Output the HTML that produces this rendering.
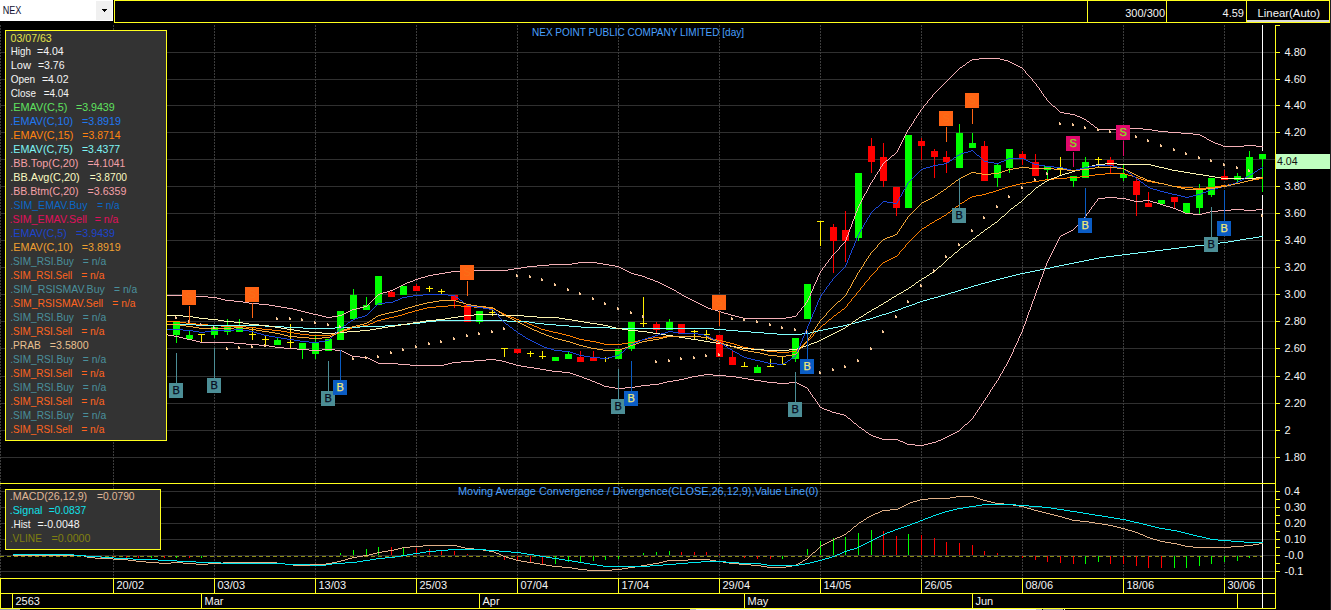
<!DOCTYPE html>
<html><head><meta charset="utf-8"><title>NEX chart</title>
<style>html,body{margin:0;padding:0;background:#000;overflow:hidden}svg{display:block}text{font-family:"Liberation Sans", sans-serif;}</style></head><body>
<svg width="1331" height="610" viewBox="0 0 1331 610" shape-rendering="crispEdges"><defs><clipPath id="mainclip"><rect x="0" y="24" width="1263" height="459"/></clipPath></defs>
<rect x="0" y="0" width="1331" height="610" fill="#000000"/>
<rect x="0" y="52" width="1275" height="1" fill="#303030"/>
<rect x="0" y="79" width="1275" height="1" fill="#303030"/>
<rect x="0" y="105" width="1275" height="1" fill="#303030"/>
<rect x="0" y="132" width="1275" height="1" fill="#303030"/>
<rect x="0" y="159" width="1275" height="1" fill="#303030"/>
<rect x="0" y="186" width="1275" height="1" fill="#303030"/>
<rect x="0" y="213" width="1275" height="1" fill="#303030"/>
<rect x="0" y="240" width="1275" height="1" fill="#303030"/>
<rect x="0" y="267" width="1275" height="1" fill="#303030"/>
<rect x="0" y="294" width="1275" height="1" fill="#303030"/>
<rect x="0" y="321" width="1275" height="1" fill="#303030"/>
<rect x="0" y="348" width="1275" height="1" fill="#303030"/>
<rect x="0" y="376" width="1275" height="1" fill="#303030"/>
<rect x="0" y="403" width="1275" height="1" fill="#303030"/>
<rect x="0" y="430" width="1275" height="1" fill="#303030"/>
<rect x="0" y="457" width="1275" height="1" fill="#303030"/>
<rect x="0" y="491" width="1275" height="1" fill="#303030"/>
<rect x="0" y="507" width="1275" height="1" fill="#303030"/>
<rect x="0" y="523" width="1275" height="1" fill="#303030"/>
<rect x="0" y="539" width="1275" height="1" fill="#303030"/>
<rect x="0" y="555" width="1275" height="1" fill="#303030"/>
<rect x="0" y="571" width="1275" height="1" fill="#303030"/>
<line x1="0.5" y1="25" x2="0.5" y2="578" stroke="#3c3c3c" stroke-width="1" stroke-dasharray="2 1"/>
<line x1="113.5" y1="25" x2="113.5" y2="578" stroke="#3c3c3c" stroke-width="1" stroke-dasharray="2 1"/>
<line x1="214.5" y1="25" x2="214.5" y2="578" stroke="#3c3c3c" stroke-width="1" stroke-dasharray="2 1"/>
<line x1="315.5" y1="25" x2="315.5" y2="578" stroke="#3c3c3c" stroke-width="1" stroke-dasharray="2 1"/>
<line x1="416.5" y1="25" x2="416.5" y2="578" stroke="#3c3c3c" stroke-width="1" stroke-dasharray="2 1"/>
<line x1="517.5" y1="25" x2="517.5" y2="578" stroke="#3c3c3c" stroke-width="1" stroke-dasharray="2 1"/>
<line x1="618.5" y1="25" x2="618.5" y2="578" stroke="#3c3c3c" stroke-width="1" stroke-dasharray="2 1"/>
<line x1="719.5" y1="25" x2="719.5" y2="578" stroke="#3c3c3c" stroke-width="1" stroke-dasharray="2 1"/>
<line x1="820.5" y1="25" x2="820.5" y2="578" stroke="#3c3c3c" stroke-width="1" stroke-dasharray="2 1"/>
<line x1="921.5" y1="25" x2="921.5" y2="578" stroke="#3c3c3c" stroke-width="1" stroke-dasharray="2 1"/>
<line x1="1022.5" y1="25" x2="1022.5" y2="578" stroke="#3c3c3c" stroke-width="1" stroke-dasharray="2 1"/>
<line x1="1123.5" y1="25" x2="1123.5" y2="578" stroke="#3c3c3c" stroke-width="1" stroke-dasharray="2 1"/>
<line x1="1224.5" y1="25" x2="1224.5" y2="578" stroke="#3c3c3c" stroke-width="1" stroke-dasharray="2 1"/>
<rect x="1262" y="25" width="1" height="126" fill="#ffffff"/>
<rect x="1262" y="195" width="1" height="413" fill="#ffffff"/>
<rect x="176" y="334" width="1" height="9" fill="#00ff00"/>
<rect x="173" y="322" width="7" height="13" fill="#00ff00"/>
<rect x="189" y="331" width="1" height="5" fill="#00ff00"/>
<rect x="186" y="335" width="7" height="4" fill="#00ff00"/>
<rect x="201" y="334" width="1" height="8" fill="#ffee00"/>
<rect x="198" y="334" width="7" height="1" fill="#ffee00"/>
<rect x="214" y="334" width="1" height="4" fill="#00ff00"/>
<rect x="211" y="327" width="7" height="8" fill="#00ff00"/>
<rect x="227" y="319" width="1" height="9" fill="#00ff00"/>
<rect x="227" y="331" width="1" height="4" fill="#00ff00"/>
<rect x="224" y="327" width="7" height="5" fill="#00ff00"/>
<rect x="239" y="319" width="1" height="9" fill="#00ff00"/>
<rect x="236" y="327" width="7" height="5" fill="#00ff00"/>
<rect x="252" y="328" width="1" height="12" fill="#ffee00"/>
<rect x="249" y="334" width="7" height="1" fill="#ffee00"/>
<rect x="265" y="336" width="1" height="10" fill="#ffee00"/>
<rect x="262" y="339" width="7" height="1" fill="#ffee00"/>
<rect x="277" y="338" width="1" height="3" fill="#00ff00"/>
<rect x="274" y="340" width="7" height="5" fill="#00ff00"/>
<rect x="290" y="324" width="1" height="24" fill="#ffee00"/>
<rect x="287" y="342" width="7" height="1" fill="#ffee00"/>
<rect x="302" y="348" width="1" height="11" fill="#00ff00"/>
<rect x="299" y="343" width="7" height="6" fill="#00ff00"/>
<rect x="315" y="336" width="1" height="8" fill="#00ff00"/>
<rect x="315" y="353" width="1" height="6" fill="#00ff00"/>
<rect x="312" y="343" width="7" height="11" fill="#00ff00"/>
<rect x="325" y="339" width="7" height="12" fill="#00ff00"/>
<rect x="337" y="311" width="7" height="29" fill="#00ff00"/>
<rect x="353" y="289" width="1" height="7" fill="#00ff00"/>
<rect x="350" y="295" width="7" height="24" fill="#00ff00"/>
<rect x="366" y="297" width="1" height="9" fill="#00ff00"/>
<rect x="363" y="305" width="7" height="5" fill="#00ff00"/>
<rect x="375" y="276" width="7" height="29" fill="#00ff00"/>
<rect x="391" y="290" width="1" height="3" fill="#ff0000"/>
<rect x="388" y="292" width="7" height="5" fill="#ff0000"/>
<rect x="400" y="286" width="7" height="9" fill="#00ff00"/>
<rect x="416" y="284" width="1" height="3" fill="#ff0000"/>
<rect x="413" y="286" width="7" height="5" fill="#ff0000"/>
<rect x="429" y="286" width="1" height="6" fill="#ffee00"/>
<rect x="426" y="288" width="7" height="1" fill="#ffee00"/>
<rect x="441" y="289" width="1" height="6" fill="#ffee00"/>
<rect x="438" y="291" width="7" height="1" fill="#ffee00"/>
<rect x="454" y="299" width="1" height="9" fill="#ff0000"/>
<rect x="451" y="295" width="7" height="5" fill="#ff0000"/>
<rect x="464" y="305" width="7" height="17" fill="#ff0000"/>
<rect x="479" y="321" width="1" height="3" fill="#00ff00"/>
<rect x="476" y="311" width="7" height="11" fill="#00ff00"/>
<rect x="492" y="310" width="1" height="6" fill="#ffee00"/>
<rect x="489" y="312" width="7" height="1" fill="#ffee00"/>
<rect x="504" y="348" width="1" height="9" fill="#ffee00"/>
<rect x="501" y="348" width="7" height="1" fill="#ffee00"/>
<rect x="517" y="352" width="1" height="2" fill="#ff0000"/>
<rect x="514" y="349" width="7" height="4" fill="#ff0000"/>
<rect x="530" y="351" width="1" height="6" fill="#ffee00"/>
<rect x="527" y="353" width="7" height="1" fill="#ffee00"/>
<rect x="542" y="351" width="1" height="8" fill="#ffee00"/>
<rect x="539" y="356" width="7" height="1" fill="#ffee00"/>
<rect x="552" y="357" width="7" height="4" fill="#00ff00"/>
<rect x="568" y="352" width="1" height="3" fill="#00ff00"/>
<rect x="565" y="354" width="7" height="5" fill="#00ff00"/>
<rect x="580" y="351" width="1" height="7" fill="#ff0000"/>
<rect x="577" y="357" width="7" height="5" fill="#ff0000"/>
<rect x="593" y="351" width="1" height="8" fill="#ff0000"/>
<rect x="590" y="358" width="7" height="3" fill="#ff0000"/>
<rect x="605" y="357" width="1" height="5" fill="#ffee00"/>
<rect x="602" y="358" width="7" height="1" fill="#ffee00"/>
<rect x="615" y="349" width="7" height="10" fill="#00ff00"/>
<rect x="631" y="348" width="1" height="3" fill="#00ff00"/>
<rect x="628" y="322" width="7" height="27" fill="#00ff00"/>
<rect x="643" y="297" width="1" height="30" fill="#ffee00"/>
<rect x="640" y="323" width="7" height="1" fill="#ffee00"/>
<rect x="656" y="322" width="1" height="3" fill="#ff0000"/>
<rect x="656" y="329" width="1" height="5" fill="#ff0000"/>
<rect x="653" y="324" width="7" height="6" fill="#ff0000"/>
<rect x="669" y="319" width="1" height="4" fill="#00ff00"/>
<rect x="666" y="322" width="7" height="8" fill="#00ff00"/>
<rect x="678" y="324" width="7" height="10" fill="#ff0000"/>
<rect x="694" y="330" width="1" height="9" fill="#ffee00"/>
<rect x="691" y="331" width="7" height="1" fill="#ffee00"/>
<rect x="706" y="330" width="1" height="10" fill="#ffee00"/>
<rect x="703" y="334" width="7" height="1" fill="#ffee00"/>
<rect x="716" y="335" width="7" height="22" fill="#ff0000"/>
<rect x="732" y="351" width="1" height="7" fill="#ff0000"/>
<rect x="729" y="357" width="7" height="8" fill="#ff0000"/>
<rect x="744" y="362" width="1" height="4" fill="#ffee00"/>
<rect x="741" y="366" width="7" height="1" fill="#ffee00"/>
<rect x="757" y="365" width="1" height="3" fill="#00ff00"/>
<rect x="754" y="367" width="7" height="6" fill="#00ff00"/>
<rect x="770" y="359" width="1" height="7" fill="#ffee00"/>
<rect x="767" y="366" width="7" height="1" fill="#ffee00"/>
<rect x="782" y="357" width="1" height="8" fill="#ffee00"/>
<rect x="779" y="364" width="7" height="1" fill="#ffee00"/>
<rect x="795" y="358" width="1" height="4" fill="#00ff00"/>
<rect x="792" y="338" width="7" height="21" fill="#00ff00"/>
<rect x="804" y="284" width="7" height="35" fill="#00ff00"/>
<rect x="820" y="221" width="1" height="25" fill="#ffee00"/>
<rect x="817" y="221" width="7" height="1" fill="#ffee00"/>
<rect x="833" y="224" width="1" height="4" fill="#ff0000"/>
<rect x="833" y="240" width="1" height="33" fill="#ff0000"/>
<rect x="830" y="227" width="7" height="14" fill="#ff0000"/>
<rect x="845" y="211" width="1" height="20" fill="#ff0000"/>
<rect x="845" y="240" width="1" height="22" fill="#ff0000"/>
<rect x="842" y="230" width="7" height="11" fill="#ff0000"/>
<rect x="858" y="237" width="1" height="4" fill="#00ff00"/>
<rect x="855" y="173" width="7" height="65" fill="#00ff00"/>
<rect x="871" y="138" width="1" height="9" fill="#ff0000"/>
<rect x="871" y="161" width="1" height="12" fill="#ff0000"/>
<rect x="868" y="146" width="7" height="16" fill="#ff0000"/>
<rect x="883" y="143" width="1" height="15" fill="#ff0000"/>
<rect x="883" y="180" width="1" height="7" fill="#ff0000"/>
<rect x="880" y="157" width="7" height="24" fill="#ff0000"/>
<rect x="896" y="207" width="1" height="9" fill="#ff0000"/>
<rect x="893" y="187" width="7" height="21" fill="#ff0000"/>
<rect x="905" y="135" width="7" height="73" fill="#00ff00"/>
<rect x="921" y="138" width="1" height="4" fill="#ff0000"/>
<rect x="921" y="145" width="1" height="15" fill="#ff0000"/>
<rect x="918" y="141" width="7" height="5" fill="#ff0000"/>
<rect x="934" y="149" width="1" height="3" fill="#ff0000"/>
<rect x="934" y="156" width="1" height="22" fill="#ff0000"/>
<rect x="931" y="151" width="7" height="6" fill="#ff0000"/>
<rect x="946" y="151" width="1" height="7" fill="#ff0000"/>
<rect x="946" y="161" width="1" height="12" fill="#ff0000"/>
<rect x="943" y="157" width="7" height="5" fill="#ff0000"/>
<rect x="959" y="124" width="1" height="10" fill="#00ff00"/>
<rect x="956" y="133" width="7" height="35" fill="#00ff00"/>
<rect x="972" y="133" width="1" height="11" fill="#00ff00"/>
<rect x="969" y="143" width="7" height="5" fill="#00ff00"/>
<rect x="984" y="141" width="1" height="6" fill="#ff0000"/>
<rect x="981" y="146" width="7" height="35" fill="#ff0000"/>
<rect x="997" y="163" width="1" height="3" fill="#00ff00"/>
<rect x="997" y="177" width="1" height="10" fill="#00ff00"/>
<rect x="994" y="165" width="7" height="13" fill="#00ff00"/>
<rect x="1009" y="167" width="1" height="6" fill="#00ff00"/>
<rect x="1006" y="149" width="7" height="19" fill="#00ff00"/>
<rect x="1022" y="151" width="1" height="4" fill="#ff0000"/>
<rect x="1022" y="158" width="1" height="7" fill="#ff0000"/>
<rect x="1019" y="154" width="7" height="5" fill="#ff0000"/>
<rect x="1035" y="154" width="1" height="9" fill="#ff0000"/>
<rect x="1032" y="162" width="7" height="14" fill="#ff0000"/>
<rect x="1047" y="169" width="1" height="10" fill="#00ff00"/>
<rect x="1044" y="166" width="7" height="4" fill="#00ff00"/>
<rect x="1060" y="157" width="1" height="19" fill="#ffee00"/>
<rect x="1057" y="168" width="7" height="1" fill="#ffee00"/>
<rect x="1073" y="180" width="1" height="7" fill="#00ff00"/>
<rect x="1070" y="176" width="7" height="5" fill="#00ff00"/>
<rect x="1085" y="157" width="1" height="6" fill="#00ff00"/>
<rect x="1082" y="162" width="7" height="16" fill="#00ff00"/>
<rect x="1098" y="157" width="1" height="10" fill="#ffee00"/>
<rect x="1095" y="159" width="7" height="1" fill="#ffee00"/>
<rect x="1110" y="157" width="1" height="4" fill="#ff0000"/>
<rect x="1110" y="165" width="1" height="8" fill="#ff0000"/>
<rect x="1107" y="160" width="7" height="6" fill="#ff0000"/>
<rect x="1123" y="165" width="1" height="10" fill="#00ff00"/>
<rect x="1123" y="177" width="1" height="4" fill="#00ff00"/>
<rect x="1120" y="174" width="7" height="4" fill="#00ff00"/>
<rect x="1136" y="178" width="1" height="4" fill="#ff0000"/>
<rect x="1136" y="194" width="1" height="22" fill="#ff0000"/>
<rect x="1133" y="181" width="7" height="14" fill="#ff0000"/>
<rect x="1148" y="192" width="1" height="12" fill="#ff0000"/>
<rect x="1145" y="203" width="7" height="4" fill="#ff0000"/>
<rect x="1158" y="200" width="7" height="4" fill="#00ff00"/>
<rect x="1174" y="201" width="1" height="7" fill="#ff0000"/>
<rect x="1171" y="197" width="7" height="5" fill="#ff0000"/>
<rect x="1183" y="203" width="7" height="10" fill="#00ff00"/>
<rect x="1199" y="184" width="1" height="5" fill="#00ff00"/>
<rect x="1199" y="207" width="1" height="7" fill="#00ff00"/>
<rect x="1196" y="188" width="7" height="20" fill="#00ff00"/>
<rect x="1211" y="194" width="1" height="3" fill="#00ff00"/>
<rect x="1208" y="178" width="7" height="17" fill="#00ff00"/>
<rect x="1224" y="170" width="1" height="7" fill="#ff0000"/>
<rect x="1221" y="176" width="7" height="4" fill="#ff0000"/>
<rect x="1237" y="173" width="1" height="4" fill="#00ff00"/>
<rect x="1237" y="179" width="1" height="4" fill="#00ff00"/>
<rect x="1234" y="176" width="7" height="4" fill="#00ff00"/>
<rect x="1249" y="151" width="1" height="7" fill="#00ff00"/>
<rect x="1246" y="157" width="7" height="21" fill="#00ff00"/>
<rect x="1262" y="158" width="1" height="34" fill="#00ff00"/>
<rect x="1259" y="154" width="7" height="5" fill="#00ff00"/>
<path fill="#ff8000" d="M1105 173h20v1h-20zM1095 174h10v1h-10zM1125 174h3v1h-3zM1089 175h6v1h-6zM1128 175h4v1h-4zM1080 176h9v1h-9zM1132 176h3v1h-3zM1067 177h13v1h-13zM1135 177h3v1h-3zM1054 178h13v1h-13zM1138 178h3v1h-3zM1259 178h4v1h-4zM1045 179h9v1h-9zM1141 179h3v1h-3zM1253 179h6v1h-6zM1039 180h6v1h-6zM1144 180h3v1h-3zM1248 180h5v1h-5zM1032 181h7v1h-7zM1147 181h5v1h-5zM1244 181h4v1h-4zM1026 182h6v1h-6zM1152 182h6v1h-6zM1240 182h4v1h-4zM1020 183h6v1h-6zM1158 183h6v1h-6zM1234 183h6v1h-6zM1016 184h4v1h-4zM1164 184h4v1h-4zM1228 184h6v1h-6zM1012 185h4v1h-4zM1168 185h4v1h-4zM1221 185h7v1h-7zM1008 186h4v1h-4zM1172 186h9v1h-9zM1215 186h6v1h-6zM1005 187h3v1h-3zM1181 187h12v1h-12zM1206 187h9v1h-9zM1002 188h3v1h-3zM1193 188h13v1h-13zM999 189h3v1h-3zM996 190h3v1h-3zM993 191h3v1h-3zM989 192h4v1h-4zM986 193h3v1h-3zM982 194h4v1h-4zM976 195h6v1h-6zM972 196h4v1h-4zM970 197h2v1h-2zM968 198h2v1h-2zM967 199h1v1h-1zM965 200h2v1h-2zM964 201h1v1h-1zM962 202h2v1h-2zM960 203h2v1h-2zM959 204h1v1h-1zM958 205h1v1h-1zM956 206h2v1h-2zM955 207h1v1h-1zM954 208h1v1h-1zM952 209h2v1h-2zM951 210h1v1h-1zM950 211h1v1h-1zM948 212h2v1h-2zM947 213h1v1h-1zM946 214h1v1h-1zM944 215h2v1h-2zM942 216h2v1h-2zM941 217h1v1h-1zM939 218h2v1h-2zM937 219h2v1h-2zM935 220h2v1h-2zM934 221h1v1h-1zM932 222h2v1h-2zM930 223h2v1h-2zM929 224h1v1h-1zM927 225h2v1h-2zM926 226h1v1h-1zM924 227h2v1h-2zM922 228h2v1h-2zM921 229h1v1h-1zM920 230h1v1h-1zM919 231h1v1h-1zM918 232h1v1h-1zM917 233h1v1h-1zM916 234h1v1h-1zM915 235h1v1h-1zM914 236h1v1h-1zM913 237h1v1h-1zM912 238h1v1h-1zM911 239h1v1h-1zM910 240h1v1h-1zM909 241h1v1h-1zM908 242h1v1h-1zM907 243h1v1h-1zM906 244h1v1h-1zM905 245h1v2h-1zM904 247h1v1h-1zM903 248h1v1h-1zM902 249h1v1h-1zM901 250h1v1h-1zM900 251h1v1h-1zM899 252h1v2h-1zM898 254h1v1h-1zM897 255h1v1h-1zM895 256h2v1h-2zM893 257h2v1h-2zM891 258h2v1h-2zM889 259h2v1h-2zM887 260h2v1h-2zM885 261h2v1h-2zM883 262h2v1h-2zM882 263h1v1h-1zM881 264h1v1h-1zM880 265h1v1h-1zM879 266h1v1h-1zM878 267h1v1h-1zM877 268h1v2h-1zM876 270h1v1h-1zM875 271h1v1h-1zM874 272h1v1h-1zM873 273h1v1h-1zM872 274h1v1h-1zM871 275h1v1h-1zM870 276h1v1h-1zM869 277h1v2h-1zM868 279h1v1h-1zM867 280h1v1h-1zM866 281h1v1h-1zM865 282h1v1h-1zM864 283h1v2h-1zM863 285h1v1h-1zM862 286h1v1h-1zM861 287h1v1h-1zM860 288h1v2h-1zM859 290h1v1h-1zM858 291h1v1h-1zM857 292h1v1h-1zM856 293h1v2h-1zM855 295h1v1h-1zM854 296h1v1h-1zM853 297h1v1h-1zM852 298h1v1h-1zM851 299h1v2h-1zM850 301h1v1h-1zM849 302h1v1h-1zM848 303h1v1h-1zM847 304h1v2h-1zM448 305h13v1h-13zM436 306h12v1h-12zM461 306h13v1h-13zM846 306h1v1h-1zM427 307h9v1h-9zM474 307h12v1h-12zM845 307h1v1h-1zM423 308h4v1h-4zM486 308h8v1h-8zM844 308h1v1h-1zM419 309h4v1h-4zM494 309h2v1h-2zM842 309h2v1h-2zM415 310h4v1h-4zM496 310h2v1h-2zM841 310h1v1h-1zM412 311h3v1h-3zM498 311h2v1h-2zM840 311h1v1h-1zM408 312h4v1h-4zM500 312h2v1h-2zM838 312h2v1h-2zM405 313h3v1h-3zM502 313h2v1h-2zM837 313h1v1h-1zM402 314h3v1h-3zM504 314h2v1h-2zM836 314h1v1h-1zM398 315h4v1h-4zM506 315h2v1h-2zM834 315h2v1h-2zM394 316h4v1h-4zM508 316h3v1h-3zM833 316h1v1h-1zM389 317h5v1h-5zM511 317h3v1h-3zM832 317h1v1h-1zM385 318h4v1h-4zM514 318h2v1h-2zM831 318h1v1h-1zM381 319h4v1h-4zM516 319h3v1h-3zM829 319h2v1h-2zM377 320h4v1h-4zM519 320h2v1h-2zM828 320h1v1h-1zM164 321h16v1h-16zM375 321h2v1h-2zM521 321h3v1h-3zM827 321h1v1h-1zM180 322h6v1h-6zM373 322h2v1h-2zM524 322h3v1h-3zM826 322h1v1h-1zM186 323h10v1h-10zM370 323h3v1h-3zM527 323h2v1h-2zM825 323h1v1h-1zM196 324h12v1h-12zM368 324h2v1h-2zM529 324h3v1h-3zM823 324h2v1h-2zM208 325h13v1h-13zM363 325h5v1h-5zM532 325h2v1h-2zM822 325h1v1h-1zM221 326h25v1h-25zM357 326h6v1h-6zM534 326h3v1h-3zM821 326h1v1h-1zM246 327h10v1h-10zM352 327h5v1h-5zM537 327h2v1h-2zM820 327h1v1h-1zM256 328h6v1h-6zM350 328h2v1h-2zM539 328h2v1h-2zM819 328h1v1h-1zM262 329h10v1h-10zM347 329h3v1h-3zM541 329h4v1h-4zM818 329h1v1h-1zM272 330h9v1h-9zM344 330h3v1h-3zM545 330h4v1h-4zM817 330h1v1h-1zM281 331h6v1h-6zM342 331h2v1h-2zM549 331h4v1h-4zM816 331h1v1h-1zM287 332h7v1h-7zM339 332h3v1h-3zM553 332h5v1h-5zM815 332h1v1h-1zM294 333h6v1h-6zM335 333h4v1h-4zM558 333h4v1h-4zM814 333h1v1h-1zM300 334h9v1h-9zM331 334h4v1h-4zM562 334h4v1h-4zM813 334h1v2h-1zM309 335h22v1h-22zM566 335h4v1h-4zM570 336h3v1h-3zM663 336h38v1h-38zM812 336h1v1h-1zM573 337h3v1h-3zM653 337h10v1h-10zM701 337h8v1h-8zM811 337h1v1h-1zM576 338h3v1h-3zM647 338h6v1h-6zM709 338h4v1h-4zM810 338h1v1h-1zM579 339h5v1h-5zM642 339h5v1h-5zM713 339h4v1h-4zM809 339h1v1h-1zM584 340h6v1h-6zM638 340h4v1h-4zM717 340h5v1h-5zM808 340h1v1h-1zM590 341h6v1h-6zM634 341h4v1h-4zM722 341h4v1h-4zM807 341h1v1h-1zM596 342h4v1h-4zM628 342h6v1h-6zM726 342h4v1h-4zM806 342h1v1h-1zM600 343h4v1h-4zM622 343h6v1h-6zM730 343h4v1h-4zM805 343h1v1h-1zM604 344h18v1h-18zM734 344h3v1h-3zM803 344h2v1h-2zM737 345h3v1h-3zM802 345h1v1h-1zM740 346h3v1h-3zM801 346h1v1h-1zM743 347h5v1h-5zM800 347h1v1h-1zM748 348h6v1h-6zM799 348h1v1h-1zM754 349h7v1h-7zM797 349h2v1h-2zM761 350h6v1h-6zM796 350h1v1h-1zM767 351h10v1h-10zM789 351h7v1h-7zM777 352h12v1h-12z"/>
<path fill="#80ffff" d="M1259 236h4v1h-4zM1253 237h6v1h-6zM1246 238h7v1h-7zM1240 239h6v1h-6zM1234 240h6v1h-6zM1228 241h6v1h-6zM1220 242h8v1h-8zM1212 243h8v1h-8zM1204 244h8v1h-8zM1195 245h9v1h-9zM1187 246h8v1h-8zM1179 247h8v1h-8zM1171 248h8v1h-8zM1163 249h8v1h-8zM1155 250h8v1h-8zM1147 251h8v1h-8zM1138 252h9v1h-9zM1130 253h8v1h-8zM1122 254h8v1h-8zM1114 255h8v1h-8zM1106 256h8v1h-8zM1099 257h7v1h-7zM1094 258h5v1h-5zM1089 259h5v1h-5zM1084 260h5v1h-5zM1079 261h5v1h-5zM1074 262h5v1h-5zM1069 263h5v1h-5zM1064 264h5v1h-5zM1059 265h5v1h-5zM1054 266h5v1h-5zM1050 267h4v1h-4zM1045 268h5v1h-5zM1040 269h5v1h-5zM1035 270h5v1h-5zM1030 271h5v1h-5zM1025 272h5v1h-5zM1020 273h5v1h-5zM1016 274h4v1h-4zM1012 275h4v1h-4zM1008 276h4v1h-4zM1004 277h4v1h-4zM1000 278h4v1h-4zM996 279h4v1h-4zM992 280h4v1h-4zM989 281h3v1h-3zM985 282h4v1h-4zM981 283h4v1h-4zM978 284h3v1h-3zM974 285h4v1h-4zM971 286h3v1h-3zM968 287h3v1h-3zM964 288h4v1h-4zM961 289h3v1h-3zM958 290h3v1h-3zM955 291h3v1h-3zM951 292h4v1h-4zM948 293h3v1h-3zM945 294h3v1h-3zM941 295h4v1h-4zM938 296h3v1h-3zM934 297h4v1h-4zM930 298h4v1h-4zM927 299h3v1h-3zM923 300h4v1h-4zM920 301h3v1h-3zM917 302h3v1h-3zM915 303h2v1h-2zM912 304h3v1h-3zM909 305h3v1h-3zM906 306h3v1h-3zM903 307h3v1h-3zM901 308h2v1h-2zM898 309h3v1h-3zM895 310h3v1h-3zM892 311h3v1h-3zM889 312h3v1h-3zM886 313h3v1h-3zM882 314h4v1h-4zM879 315h3v1h-3zM876 316h3v1h-3zM873 317h3v1h-3zM870 318h3v1h-3zM866 319h4v1h-4zM436 320h71v1h-71zM862 320h4v1h-4zM426 321h10v1h-10zM507 321h22v1h-22zM859 321h3v1h-3zM420 322h6v1h-6zM529 322h6v1h-6zM855 322h4v1h-4zM410 323h10v1h-10zM535 323h9v1h-9zM851 323h4v1h-4zM164 324h32v1h-32zM398 324h12v1h-12zM544 324h12v1h-12zM847 324h4v1h-4zM196 325h69v1h-69zM385 325h13v1h-13zM556 325h13v1h-13zM843 325h4v1h-4zM265 326h19v1h-19zM360 326h25v1h-25zM569 326h12v1h-12zM838 326h5v1h-5zM284 327h19v1h-19zM335 327h25v1h-25zM581 327h29v1h-29zM833 327h5v1h-5zM303 328h32v1h-32zM610 328h104v1h-104zM828 328h5v1h-5zM714 329h12v1h-12zM823 329h5v1h-5zM726 330h12v1h-12zM818 330h5v1h-5zM738 331h13v1h-13zM814 331h4v1h-4zM751 332h13v1h-13zM810 332h4v1h-4zM764 333h13v1h-13zM802 333h8v1h-8zM777 334h25v1h-25z"/>
<path fill="#f4b0b6" d="M979 58h21v1h-21zM972 59h7v1h-7zM1000 59h4v1h-4zM970 60h2v1h-2zM1004 60h4v1h-4zM969 61h1v1h-1zM1008 61h2v1h-2zM967 62h2v1h-2zM1010 62h2v1h-2zM966 63h1v1h-1zM1012 63h2v1h-2zM965 64h1v1h-1zM1014 64h2v1h-2zM963 65h2v1h-2zM1016 65h2v1h-2zM962 66h1v1h-1zM1018 66h2v1h-2zM960 67h2v1h-2zM1020 67h2v1h-2zM959 68h1v1h-1zM1022 68h1v1h-1zM958 69h1v1h-1zM1023 69h1v1h-1zM957 70h1v1h-1zM1024 70h1v1h-1zM956 71h1v1h-1zM1025 71h1v2h-1zM955 72h1v1h-1zM954 73h1v1h-1zM1026 73h1v1h-1zM953 74h1v1h-1zM1027 74h1v1h-1zM952 75h1v1h-1zM1028 75h1v1h-1zM951 76h1v1h-1zM1029 76h1v1h-1zM950 77h1v1h-1zM1030 77h1v1h-1zM949 78h1v1h-1zM1031 78h1v1h-1zM948 79h1v1h-1zM1032 79h1v2h-1zM947 80h1v1h-1zM946 81h1v1h-1zM1033 81h1v1h-1zM945 82h1v1h-1zM1034 82h1v1h-1zM944 83h1v1h-1zM1035 83h1v1h-1zM943 84h1v1h-1zM1036 84h1v2h-1zM942 85h1v1h-1zM941 86h1v1h-1zM1037 86h1v1h-1zM940 87h1v1h-1zM1038 87h1v1h-1zM939 88h1v1h-1zM1039 88h1v2h-1zM938 89h1v1h-1zM937 90h1v1h-1zM1040 90h1v1h-1zM936 91h1v1h-1zM1041 91h1v2h-1zM935 92h1v1h-1zM934 93h1v1h-1zM1042 93h1v1h-1zM933 94h1v1h-1zM1043 94h1v2h-1zM932 95h1v2h-1zM1044 96h1v1h-1zM931 97h1v1h-1zM1045 97h1v1h-1zM930 98h1v1h-1zM1046 98h1v2h-1zM929 99h1v1h-1zM928 100h1v1h-1zM1047 100h1v1h-1zM927 101h1v2h-1zM1048 101h1v1h-1zM1049 102h1v1h-1zM926 103h1v1h-1zM1050 103h1v1h-1zM925 104h1v1h-1zM1051 104h1v1h-1zM924 105h1v1h-1zM1052 105h1v1h-1zM923 106h1v2h-1zM1053 106h2v1h-2zM1055 107h1v1h-1zM922 108h1v1h-1zM1056 108h1v1h-1zM921 109h1v1h-1zM1057 109h1v1h-1zM920 110h1v2h-1zM1058 110h1v1h-1zM1059 111h1v1h-1zM919 112h1v1h-1zM1060 112h4v1h-4zM918 113h1v2h-1zM1064 113h6v1h-6zM1070 114h5v1h-5zM917 115h1v1h-1zM1075 115h2v1h-2zM916 116h1v2h-1zM1077 116h3v1h-3zM1080 117h2v1h-2zM915 118h1v1h-1zM1082 118h2v1h-2zM914 119h1v2h-1zM1084 119h2v1h-2zM1086 120h1v1h-1zM913 121h1v2h-1zM1087 121h2v1h-2zM1089 122h1v1h-1zM912 123h1v1h-1zM1090 123h1v1h-1zM911 124h1v2h-1zM1091 124h2v1h-2zM1093 125h1v1h-1zM910 126h1v1h-1zM1094 126h1v1h-1zM909 127h1v2h-1zM1095 127h2v1h-2zM1097 128h1v1h-1zM1117 128h26v1h-26zM908 129h1v1h-1zM1098 129h19v1h-19zM1143 129h9v1h-9zM907 130h1v2h-1zM1152 130h6v1h-6zM1158 131h10v1h-10zM906 132h1v2h-1zM1168 132h13v1h-13zM1181 133h12v1h-12zM905 134h1v2h-1zM1193 134h7v1h-7zM1200 135h2v1h-2zM904 136h1v2h-1zM1202 136h2v1h-2zM1204 137h2v1h-2zM903 138h1v2h-1zM1206 138h1v1h-1zM1207 139h2v1h-2zM902 140h1v2h-1zM1209 140h2v1h-2zM1211 141h2v1h-2zM901 142h1v2h-1zM1213 142h2v1h-2zM1215 143h3v1h-3zM900 144h1v2h-1zM1218 144h3v1h-3zM1221 145h2v1h-2zM1244 145h12v1h-12zM899 146h1v2h-1zM1223 146h21v1h-21zM1256 146h7v1h-7zM898 148h1v2h-1zM897 150h1v2h-1zM896 152h1v1h-1zM895 153h1v1h-1zM894 154h1v1h-1zM892 155h2v1h-2zM891 156h1v1h-1zM890 157h1v1h-1zM889 158h1v1h-1zM888 159h1v1h-1zM886 160h2v1h-2zM885 161h1v1h-1zM884 162h1v1h-1zM883 163h1v1h-1zM882 164h1v2h-1zM881 166h1v1h-1zM880 167h1v2h-1zM879 169h1v2h-1zM878 171h1v1h-1zM877 172h1v2h-1zM876 174h1v1h-1zM875 175h1v2h-1zM874 177h1v2h-1zM873 179h1v1h-1zM872 180h1v2h-1zM871 182h1v1h-1zM870 183h1v2h-1zM869 185h1v2h-1zM868 187h1v2h-1zM867 189h1v2h-1zM866 191h1v2h-1zM865 193h1v1h-1zM864 194h1v2h-1zM863 196h1v2h-1zM862 198h1v2h-1zM861 200h1v2h-1zM860 202h1v2h-1zM859 204h1v2h-1zM858 206h1v2h-1zM857 208h1v3h-1zM856 211h1v2h-1zM855 213h1v3h-1zM854 216h1v3h-1zM853 219h1v2h-1zM852 221h1v3h-1zM851 224h1v3h-1zM850 227h1v2h-1zM849 229h1v3h-1zM848 232h1v3h-1zM847 235h1v2h-1zM846 237h1v3h-1zM845 240h1v2h-1zM844 242h1v1h-1zM843 243h1v1h-1zM842 244h1v1h-1zM841 245h1v1h-1zM840 246h1v1h-1zM839 247h1v2h-1zM838 249h1v1h-1zM837 250h1v1h-1zM836 251h1v1h-1zM835 252h1v1h-1zM834 253h1v1h-1zM833 254h1v1h-1zM832 255h1v1h-1zM831 256h1v2h-1zM830 258h1v1h-1zM829 259h1v1h-1zM828 260h1v2h-1zM578 262h19v1h-19zM827 262h1v1h-1zM572 263h6v1h-6zM597 263h6v1h-6zM826 263h1v1h-1zM549 264h23v1h-23zM603 264h6v1h-6zM825 264h1v2h-1zM537 265h12v1h-12zM609 265h6v1h-6zM527 266h10v1h-10zM615 266h4v1h-4zM824 266h1v1h-1zM521 267h6v1h-6zM619 267h2v1h-2zM823 267h1v1h-1zM514 268h7v1h-7zM621 268h2v1h-2zM822 268h1v2h-1zM508 269h6v1h-6zM623 269h2v1h-2zM461 270h47v1h-47zM625 270h2v1h-2zM821 270h1v1h-1zM451 271h10v1h-10zM627 271h2v1h-2zM820 271h1v2h-1zM445 272h6v1h-6zM629 272h2v1h-2zM439 273h6v1h-6zM631 273h3v1h-3zM819 273h1v2h-1zM433 274h6v1h-6zM634 274h4v1h-4zM428 275h5v1h-5zM638 275h4v1h-4zM818 275h1v2h-1zM425 276h3v1h-3zM642 276h3v1h-3zM421 277h4v1h-4zM645 277h2v1h-2zM817 277h1v3h-1zM418 278h3v1h-3zM647 278h3v1h-3zM415 279h3v1h-3zM650 279h3v1h-3zM413 280h2v1h-2zM653 280h2v1h-2zM816 280h1v2h-1zM410 281h3v1h-3zM655 281h3v1h-3zM407 282h3v1h-3zM658 282h2v1h-2zM815 282h1v2h-1zM405 283h2v1h-2zM660 283h2v1h-2zM403 284h2v1h-2zM662 284h2v1h-2zM814 284h1v2h-1zM401 285h2v1h-2zM664 285h2v1h-2zM399 286h2v1h-2zM666 286h2v1h-2zM813 286h1v3h-1zM397 287h2v1h-2zM668 287h2v1h-2zM395 288h2v1h-2zM670 288h2v1h-2zM393 289h2v1h-2zM672 289h2v1h-2zM812 289h1v2h-1zM390 290h3v1h-3zM674 290h2v1h-2zM387 291h3v1h-3zM676 291h1v1h-1zM811 291h1v2h-1zM383 292h4v1h-4zM677 292h2v1h-2zM380 293h3v1h-3zM679 293h2v1h-2zM810 293h1v3h-1zM378 294h2v1h-2zM681 294h1v1h-1zM164 295h19v1h-19zM377 295h1v1h-1zM682 295h2v1h-2zM183 296h25v1h-25zM376 296h1v1h-1zM684 296h2v1h-2zM809 296h1v2h-1zM208 297h9v1h-9zM375 297h1v1h-1zM686 297h2v1h-2zM217 298h4v1h-4zM374 298h1v1h-1zM688 298h2v1h-2zM808 298h1v2h-1zM221 299h4v1h-4zM373 299h1v1h-1zM690 299h2v1h-2zM225 300h9v1h-9zM372 300h1v1h-1zM692 300h2v1h-2zM807 300h1v2h-1zM234 301h9v1h-9zM371 301h1v1h-1zM694 301h2v1h-2zM243 302h6v1h-6zM370 302h1v1h-1zM696 302h2v1h-2zM806 302h1v1h-1zM249 303h10v1h-10zM369 303h1v1h-1zM698 303h2v1h-2zM805 303h1v2h-1zM259 304h10v1h-10zM368 304h1v1h-1zM700 304h2v1h-2zM269 305h6v1h-6zM367 305h1v1h-1zM702 305h2v1h-2zM804 305h1v1h-1zM275 306h6v1h-6zM364 306h3v1h-3zM704 306h2v1h-2zM803 306h1v1h-1zM281 307h6v1h-6zM360 307h4v1h-4zM706 307h2v1h-2zM802 307h1v1h-1zM287 308h6v1h-6zM356 308h4v1h-4zM708 308h3v1h-3zM801 308h1v2h-1zM293 309h4v1h-4zM352 309h4v1h-4zM711 309h4v1h-4zM297 310h4v1h-4zM350 310h2v1h-2zM715 310h3v1h-3zM800 310h1v1h-1zM301 311h4v1h-4zM348 311h2v1h-2zM718 311h3v1h-3zM799 311h1v1h-1zM305 312h4v1h-4zM346 312h2v1h-2zM721 312h3v1h-3zM798 312h1v1h-1zM309 313h4v1h-4zM344 313h2v1h-2zM724 313h4v1h-4zM797 313h1v2h-1zM313 314h5v1h-5zM342 314h2v1h-2zM728 314h3v1h-3zM318 315h4v1h-4zM338 315h4v1h-4zM731 315h4v1h-4zM796 315h1v1h-1zM322 316h4v1h-4zM332 316h6v1h-6zM735 316h4v1h-4zM792 316h4v1h-4zM326 317h6v1h-6zM739 317h4v1h-4zM786 317h6v1h-6zM743 318h43v1h-43z"/>
<path fill="#fcf4b0" d="M1105 163h12v1h-12zM1096 164h9v1h-9zM1117 164h34v1h-34zM1092 165h4v1h-4zM1151 165h4v1h-4zM1088 166h4v1h-4zM1155 166h4v1h-4zM1084 167h4v1h-4zM1159 167h5v1h-5zM1081 168h3v1h-3zM1164 168h4v1h-4zM1078 169h3v1h-3zM1168 169h4v1h-4zM1075 170h3v1h-3zM1172 170h6v1h-6zM1072 171h3v1h-3zM1178 171h6v1h-6zM1069 172h3v1h-3zM1184 172h6v1h-6zM1065 173h4v1h-4zM1190 173h6v1h-6zM1062 174h3v1h-3zM1196 174h7v1h-7zM1059 175h3v1h-3zM1203 175h6v1h-6zM1057 176h2v1h-2zM1209 176h6v1h-6zM1054 177h3v1h-3zM1215 177h6v1h-6zM1256 177h7v1h-7zM1051 178h3v1h-3zM1221 178h35v1h-35zM1049 179h2v1h-2zM1047 180h2v1h-2zM1045 181h2v1h-2zM1044 182h1v1h-1zM1042 183h2v1h-2zM1041 184h1v1h-1zM1039 185h2v1h-2zM1038 186h1v1h-1zM1036 187h2v1h-2zM1035 188h1v1h-1zM1034 189h1v1h-1zM1033 190h1v1h-1zM1032 191h1v1h-1zM1031 192h1v1h-1zM1030 193h1v1h-1zM1028 194h2v1h-2zM1027 195h1v1h-1zM1026 196h1v1h-1zM1025 197h1v1h-1zM1024 198h1v1h-1zM1023 199h1v1h-1zM1022 200h1v1h-1zM1021 201h1v1h-1zM1019 202h2v1h-2zM1018 203h1v1h-1zM1017 204h1v1h-1zM1015 205h2v1h-2zM1014 206h1v1h-1zM1013 207h1v1h-1zM1011 208h2v1h-2zM1010 209h1v1h-1zM1009 210h1v1h-1zM1008 211h1v1h-1zM1007 212h1v1h-1zM1006 213h1v1h-1zM1005 214h1v1h-1zM1004 215h1v1h-1zM1002 216h2v1h-2zM1001 217h1v1h-1zM1000 218h1v1h-1zM999 219h1v1h-1zM998 220h1v1h-1zM997 221h1v1h-1zM995 222h2v1h-2zM994 223h1v1h-1zM992 224h2v1h-2zM991 225h1v1h-1zM990 226h1v1h-1zM988 227h2v1h-2zM987 228h1v1h-1zM985 229h2v1h-2zM984 230h1v1h-1zM983 231h1v1h-1zM981 232h2v1h-2zM980 233h1v1h-1zM979 234h1v1h-1zM977 235h2v1h-2zM976 236h1v1h-1zM975 237h1v1h-1zM973 238h2v1h-2zM972 239h1v1h-1zM971 240h1v1h-1zM969 241h2v1h-2zM968 242h1v1h-1zM967 243h1v1h-1zM965 244h2v1h-2zM964 245h1v1h-1zM963 246h1v1h-1zM961 247h2v1h-2zM960 248h1v1h-1zM959 249h1v1h-1zM958 250h1v1h-1zM957 251h1v1h-1zM955 252h2v1h-2zM954 253h1v1h-1zM953 254h1v1h-1zM952 255h1v1h-1zM951 256h1v1h-1zM949 257h2v1h-2zM948 258h1v1h-1zM947 259h1v1h-1zM946 260h1v1h-1zM945 261h1v1h-1zM944 262h1v1h-1zM943 263h1v1h-1zM942 264h1v1h-1zM941 265h1v1h-1zM939 266h2v1h-2zM938 267h1v1h-1zM937 268h1v1h-1zM936 269h1v1h-1zM935 270h1v1h-1zM934 271h1v1h-1zM932 272h2v1h-2zM930 273h2v1h-2zM929 274h1v1h-1zM927 275h2v1h-2zM926 276h1v1h-1zM924 277h2v1h-2zM922 278h2v1h-2zM921 279h1v1h-1zM919 280h2v1h-2zM918 281h1v1h-1zM916 282h2v1h-2zM915 283h1v1h-1zM914 284h1v1h-1zM912 285h2v1h-2zM911 286h1v1h-1zM909 287h2v1h-2zM908 288h1v1h-1zM906 289h2v1h-2zM904 290h2v1h-2zM903 291h1v1h-1zM901 292h2v1h-2zM899 293h2v1h-2zM897 294h2v1h-2zM896 295h1v1h-1zM894 296h2v1h-2zM892 297h2v1h-2zM891 298h1v1h-1zM889 299h2v1h-2zM888 300h1v1h-1zM886 301h2v1h-2zM884 302h2v1h-2zM883 303h1v1h-1zM881 304h2v1h-2zM879 305h2v1h-2zM878 306h1v1h-1zM876 307h2v1h-2zM874 308h2v1h-2zM872 309h2v1h-2zM871 310h1v1h-1zM869 311h2v1h-2zM867 312h2v1h-2zM866 313h1v1h-1zM474 314h25v1h-25zM864 314h2v1h-2zM164 315h19v1h-19zM464 315h10v1h-10zM499 315h25v1h-25zM863 315h1v1h-1zM183 316h10v1h-10zM458 316h6v1h-6zM524 316h13v1h-13zM861 316h2v1h-2zM193 317h6v1h-6zM451 317h7v1h-7zM537 317h22v1h-22zM859 317h2v1h-2zM199 318h9v1h-9zM445 318h6v1h-6zM559 318h6v1h-6zM858 318h1v1h-1zM208 319h10v1h-10zM436 319h9v1h-9zM565 319h7v1h-7zM856 319h2v1h-2zM218 320h6v1h-6zM426 320h10v1h-10zM572 320h6v1h-6zM855 320h1v1h-1zM224 321h10v1h-10zM420 321h6v1h-6zM578 321h6v1h-6zM853 321h2v1h-2zM234 322h9v1h-9zM413 322h7v1h-7zM584 322h6v1h-6zM852 322h1v1h-1zM243 323h6v1h-6zM407 323h6v1h-6zM590 323h7v1h-7zM851 323h1v1h-1zM249 324h10v1h-10zM401 324h6v1h-6zM597 324h6v1h-6zM849 324h2v1h-2zM259 325h10v1h-10zM395 325h6v1h-6zM603 325h5v1h-5zM848 325h1v1h-1zM269 326h6v1h-6zM388 326h7v1h-7zM608 326h4v1h-4zM846 326h2v1h-2zM275 327h6v1h-6zM382 327h6v1h-6zM612 327h4v1h-4zM845 327h1v1h-1zM281 328h6v1h-6zM376 328h6v1h-6zM616 328h6v1h-6zM843 328h2v1h-2zM287 329h7v1h-7zM370 329h6v1h-6zM622 329h6v1h-6zM841 329h2v1h-2zM294 330h6v1h-6zM360 330h10v1h-10zM628 330h10v1h-10zM839 330h2v1h-2zM300 331h9v1h-9zM347 331h13v1h-13zM638 331h9v1h-9zM837 331h2v1h-2zM309 332h13v1h-13zM335 332h12v1h-12zM647 332h6v1h-6zM835 332h2v1h-2zM322 333h13v1h-13zM653 333h7v1h-7zM833 333h2v1h-2zM660 334h6v1h-6zM831 334h2v1h-2zM666 335h7v1h-7zM829 335h2v1h-2zM673 336h6v1h-6zM827 336h2v1h-2zM679 337h6v1h-6zM825 337h2v1h-2zM685 338h6v1h-6zM823 338h2v1h-2zM691 339h7v1h-7zM821 339h2v1h-2zM698 340h6v1h-6zM819 340h2v1h-2zM704 341h6v1h-6zM817 341h2v1h-2zM710 342h6v1h-6zM814 342h3v1h-3zM716 343h6v1h-6zM811 343h3v1h-3zM722 344h4v1h-4zM809 344h2v1h-2zM726 345h4v1h-4zM806 345h3v1h-3zM730 346h6v1h-6zM803 346h3v1h-3zM736 347h6v1h-6zM800 347h3v1h-3zM742 348h9v1h-9zM797 348h3v1h-3zM751 349h13v1h-13zM789 349h8v1h-8zM764 350h25v1h-25z"/>
<path fill="#f4b0b6" d="M1105 197h12v1h-12zM1098 198h7v1h-7zM1117 198h9v1h-9zM1097 199h1v2h-1zM1126 199h4v1h-4zM1130 200h4v1h-4zM1143 200h7v1h-7zM1096 201h1v1h-1zM1134 201h9v1h-9zM1150 201h3v1h-3zM1095 202h1v1h-1zM1153 202h4v1h-4zM1094 203h1v2h-1zM1157 203h3v1h-3zM1160 204h3v1h-3zM1093 205h1v1h-1zM1163 205h3v1h-3zM1092 206h1v1h-1zM1166 206h4v1h-4zM1091 207h1v2h-1zM1170 207h3v1h-3zM1173 208h3v1h-3zM1090 209h1v1h-1zM1176 209h2v1h-2zM1231 209h13v1h-13zM1256 209h7v1h-7zM1089 210h1v2h-1zM1178 210h3v1h-3zM1218 210h13v1h-13zM1244 210h12v1h-12zM1181 211h2v1h-2zM1210 211h8v1h-8zM1088 212h1v1h-1zM1183 212h2v1h-2zM1206 212h4v1h-4zM1087 213h1v1h-1zM1185 213h8v1h-8zM1202 213h4v1h-4zM1086 214h1v2h-1zM1193 214h9v1h-9zM1085 216h1v1h-1zM1084 217h1v1h-1zM1083 218h1v1h-1zM1082 219h1v1h-1zM1081 220h1v1h-1zM1080 221h1v1h-1zM1079 222h1v2h-1zM1078 224h1v1h-1zM1077 225h1v1h-1zM1076 226h1v1h-1zM1075 227h1v1h-1zM1074 228h1v1h-1zM1073 229h1v1h-1zM1071 230h2v1h-2zM1069 231h2v1h-2zM1067 232h2v1h-2zM1065 233h2v1h-2zM1063 234h2v1h-2zM1061 235h2v1h-2zM1060 236h1v1h-1zM1059 237h1v2h-1zM1058 239h1v2h-1zM1057 241h1v2h-1zM1056 243h1v2h-1zM1055 245h1v2h-1zM1054 247h1v2h-1zM1053 249h1v2h-1zM1052 251h1v2h-1zM1051 253h1v2h-1zM1050 255h1v2h-1zM1049 257h1v2h-1zM1048 259h1v2h-1zM1047 261h1v2h-1zM1046 263h1v3h-1zM1045 266h1v2h-1zM1044 268h1v3h-1zM1043 271h1v3h-1zM1042 274h1v3h-1zM1041 277h1v2h-1zM1040 279h1v3h-1zM1039 282h1v3h-1zM1038 285h1v3h-1zM1037 288h1v2h-1zM1036 290h1v3h-1zM1035 293h1v3h-1zM1034 296h1v3h-1zM1033 299h1v2h-1zM1032 301h1v3h-1zM1031 304h1v3h-1zM1030 307h1v3h-1zM1029 310h1v2h-1zM1028 312h1v3h-1zM1027 315h1v3h-1zM1026 318h1v3h-1zM1025 321h1v3h-1zM1024 324h1v2h-1zM1023 326h1v3h-1zM1022 329h1v3h-1zM1021 332h1v2h-1zM164 334h4v1h-4zM1020 334h1v2h-1zM168 335h6v1h-6zM174 336h5v1h-5zM1019 336h1v2h-1zM179 337h4v1h-4zM183 338h4v1h-4zM1018 338h1v3h-1zM187 339h5v1h-5zM192 340h4v1h-4zM196 341h4v1h-4zM1017 341h1v2h-1zM200 342h34v1h-34zM234 343h12v1h-12zM1016 343h1v2h-1zM246 344h13v1h-13zM259 345h10v1h-10zM1015 345h1v2h-1zM269 346h6v1h-6zM275 347h9v1h-9zM1014 347h1v2h-1zM284 348h13v1h-13zM297 349h12v1h-12zM322 349h13v1h-13zM1013 349h1v3h-1zM309 350h13v1h-13zM335 350h7v1h-7zM342 351h2v1h-2zM344 352h2v1h-2zM1012 352h1v2h-1zM346 353h2v1h-2zM348 354h2v1h-2zM1011 354h1v2h-1zM350 355h2v1h-2zM352 356h8v1h-8zM1010 356h1v2h-1zM360 357h8v1h-8zM368 358h2v1h-2zM1009 358h1v2h-1zM370 359h2v1h-2zM486 359h10v1h-10zM372 360h2v1h-2zM474 360h12v1h-12zM496 360h6v1h-6zM1008 360h1v2h-1zM374 361h2v1h-2zM461 361h13v1h-13zM502 361h4v1h-4zM376 362h2v1h-2zM452 362h9v1h-9zM506 362h3v1h-3zM1007 362h1v2h-1zM378 363h20v1h-20zM448 363h4v1h-4zM509 363h4v1h-4zM398 364h12v1h-12zM444 364h4v1h-4zM513 364h3v1h-3zM1006 364h1v2h-1zM410 365h34v1h-34zM516 365h5v1h-5zM521 366h6v1h-6zM1005 366h1v1h-1zM527 367h7v1h-7zM1004 367h1v2h-1zM534 368h6v1h-6zM540 369h6v1h-6zM1003 369h1v2h-1zM546 370h6v1h-6zM552 371h10v1h-10zM1002 371h1v2h-1zM562 372h8v1h-8zM570 373h3v1h-3zM1001 373h1v1h-1zM573 374h3v1h-3zM704 374h9v1h-9zM1000 374h1v2h-1zM576 375h3v1h-3zM698 375h6v1h-6zM713 375h13v1h-13zM579 376h3v1h-3zM692 376h6v1h-6zM726 376h10v1h-10zM999 376h1v2h-1zM582 377h2v1h-2zM688 377h4v1h-4zM736 377h6v1h-6zM584 378h3v1h-3zM684 378h4v1h-4zM742 378h6v1h-6zM998 378h1v2h-1zM587 379h3v1h-3zM679 379h5v1h-5zM748 379h6v1h-6zM590 380h2v1h-2zM673 380h6v1h-6zM754 380h7v1h-7zM997 380h1v1h-1zM592 381h3v1h-3zM667 381h6v1h-6zM761 381h6v1h-6zM996 381h1v2h-1zM595 382h2v1h-2zM663 382h4v1h-4zM767 382h10v1h-10zM789 382h8v1h-8zM597 383h3v1h-3zM659 383h4v1h-4zM777 383h12v1h-12zM797 383h2v1h-2zM995 383h1v1h-1zM600 384h2v1h-2zM650 384h9v1h-9zM799 384h2v1h-2zM994 384h1v2h-1zM602 385h2v1h-2zM641 385h9v1h-9zM801 385h2v1h-2zM604 386h5v1h-5zM635 386h6v1h-6zM803 386h2v1h-2zM993 386h1v1h-1zM609 387h6v1h-6zM625 387h10v1h-10zM805 387h2v1h-2zM992 387h1v2h-1zM615 388h10v1h-10zM807 388h1v1h-1zM808 389h1v2h-1zM991 389h1v1h-1zM990 390h1v2h-1zM809 391h1v1h-1zM810 392h1v2h-1zM989 392h1v2h-1zM811 394h1v1h-1zM988 394h1v1h-1zM812 395h1v2h-1zM987 395h1v2h-1zM813 397h1v1h-1zM986 397h1v1h-1zM814 398h1v1h-1zM985 398h1v2h-1zM815 399h1v2h-1zM984 400h1v1h-1zM816 401h1v1h-1zM983 401h1v2h-1zM817 402h1v2h-1zM982 403h1v1h-1zM818 404h1v1h-1zM981 404h1v2h-1zM819 405h1v2h-1zM980 406h1v1h-1zM820 407h2v1h-2zM979 407h1v2h-1zM822 408h2v1h-2zM824 409h3v1h-3zM978 409h1v1h-1zM827 410h3v1h-3zM977 410h1v2h-1zM830 411h2v1h-2zM832 412h4v1h-4zM976 412h1v1h-1zM836 413h4v1h-4zM975 413h1v2h-1zM840 414h4v1h-4zM844 415h2v1h-2zM974 415h1v1h-1zM846 416h1v1h-1zM973 416h1v2h-1zM847 417h1v1h-1zM848 418h2v1h-2zM972 418h1v1h-1zM850 419h1v1h-1zM971 419h1v1h-1zM851 420h1v1h-1zM970 420h1v1h-1zM852 421h1v1h-1zM969 421h1v1h-1zM853 422h1v1h-1zM968 422h1v1h-1zM854 423h2v1h-2zM967 423h1v1h-1zM856 424h1v1h-1zM965 424h2v1h-2zM857 425h1v1h-1zM964 425h1v1h-1zM858 426h1v1h-1zM963 426h1v1h-1zM859 427h2v1h-2zM962 427h1v1h-1zM861 428h1v1h-1zM961 428h1v1h-1zM862 429h2v1h-2zM960 429h1v1h-1zM864 430h1v1h-1zM959 430h1v1h-1zM865 431h1v1h-1zM957 431h2v1h-2zM866 432h2v1h-2zM955 432h2v1h-2zM868 433h1v1h-1zM953 433h2v1h-2zM869 434h2v1h-2zM951 434h2v1h-2zM871 435h2v1h-2zM949 435h2v1h-2zM873 436h3v1h-3zM947 436h2v1h-2zM876 437h3v1h-3zM945 437h2v1h-2zM879 438h3v1h-3zM943 438h2v1h-2zM882 439h16v1h-16zM941 439h2v1h-2zM898 440h2v1h-2zM938 440h3v1h-3zM900 441h3v1h-3zM936 441h2v1h-2zM903 442h2v1h-2zM932 442h4v1h-4zM905 443h2v1h-2zM928 443h4v1h-4zM907 444h8v1h-8zM924 444h4v1h-4zM915 445h9v1h-9z"/>
<path fill="#1c48d8" d="M971 150h2v1h-2zM968 151h3v1h-3zM973 151h1v1h-1zM964 152h4v1h-4zM974 152h1v1h-1zM961 153h3v1h-3zM975 153h1v1h-1zM959 154h2v1h-2zM976 154h1v1h-1zM957 155h2v1h-2zM977 155h2v1h-2zM956 156h1v1h-1zM979 156h1v1h-1zM954 157h2v1h-2zM980 157h1v1h-1zM953 158h1v1h-1zM981 158h1v1h-1zM1008 158h16v1h-16zM952 159h1v1h-1zM982 159h1v1h-1zM1006 159h2v1h-2zM1024 159h2v1h-2zM950 160h2v1h-2zM983 160h1v1h-1zM1004 160h2v1h-2zM1026 160h2v1h-2zM949 161h1v1h-1zM984 161h4v1h-4zM1001 161h3v1h-3zM1028 161h2v1h-2zM947 162h2v1h-2zM988 162h6v1h-6zM999 162h2v1h-2zM1030 162h2v1h-2zM944 163h3v1h-3zM994 163h5v1h-5zM1032 163h2v1h-2zM938 164h6v1h-6zM1034 164h5v1h-5zM933 165h5v1h-5zM1039 165h6v1h-6zM1095 165h18v1h-18zM930 166h3v1h-3zM1045 166h9v1h-9zM1089 166h6v1h-6zM1113 166h4v1h-4zM926 167h4v1h-4zM1054 167h9v1h-9zM1084 167h5v1h-5zM1117 167h4v1h-4zM1262 167h1v1h-1zM923 168h3v1h-3zM1063 168h4v1h-4zM1080 168h4v1h-4zM1121 168h3v1h-3zM1260 168h2v1h-2zM921 169h2v1h-2zM1067 169h4v1h-4zM1076 169h4v1h-4zM1124 169h1v1h-1zM1258 169h2v1h-2zM920 170h1v1h-1zM1071 170h5v1h-5zM1125 170h2v1h-2zM1257 170h1v1h-1zM919 171h1v1h-1zM1127 171h1v1h-1zM1255 171h2v1h-2zM918 172h1v1h-1zM1128 172h1v1h-1zM1254 172h1v1h-1zM917 173h1v1h-1zM1129 173h2v1h-2zM1252 173h2v1h-2zM916 174h1v1h-1zM1131 174h1v1h-1zM1250 174h2v1h-2zM915 175h1v1h-1zM1132 175h1v1h-1zM1249 175h1v1h-1zM914 176h1v1h-1zM1133 176h2v1h-2zM1247 176h2v1h-2zM913 177h1v1h-1zM1135 177h1v1h-1zM1245 177h2v1h-2zM912 178h1v1h-1zM1136 178h1v1h-1zM1244 178h1v1h-1zM911 179h1v1h-1zM1137 179h2v1h-2zM1242 179h2v1h-2zM910 180h1v1h-1zM1139 180h1v1h-1zM1240 180h2v1h-2zM909 181h1v1h-1zM1140 181h1v1h-1zM1238 181h2v1h-2zM908 182h1v1h-1zM1141 182h2v1h-2zM1236 182h2v1h-2zM907 183h1v2h-1zM1143 183h1v1h-1zM1233 183h3v1h-3zM1144 184h1v1h-1zM1229 184h4v1h-4zM906 185h1v2h-1zM1145 185h2v1h-2zM1226 185h3v1h-3zM1147 186h1v1h-1zM1222 186h4v1h-4zM905 187h1v2h-1zM1148 187h2v1h-2zM1218 187h4v1h-4zM1150 188h3v1h-3zM1214 188h4v1h-4zM904 189h1v1h-1zM1153 189h4v1h-4zM1210 189h4v1h-4zM903 190h1v2h-1zM1157 190h3v1h-3zM1208 190h2v1h-2zM1160 191h4v1h-4zM1206 191h2v1h-2zM902 192h1v2h-1zM1164 192h4v1h-4zM1203 192h3v1h-3zM1168 193h4v1h-4zM1201 193h2v1h-2zM901 194h1v2h-1zM1172 194h5v1h-5zM1197 194h4v1h-4zM1177 195h4v1h-4zM1193 195h4v1h-4zM900 196h1v1h-1zM1181 196h4v1h-4zM1189 196h4v1h-4zM899 197h1v2h-1zM1185 197h4v1h-4zM898 199h1v2h-1zM883 201h4v1h-4zM897 201h1v2h-1zM882 202h1v1h-1zM887 202h6v1h-6zM881 203h1v1h-1zM893 203h4v1h-4zM880 204h1v1h-1zM879 205h1v1h-1zM878 206h1v1h-1zM876 207h2v1h-2zM875 208h1v1h-1zM874 209h1v1h-1zM873 210h1v1h-1zM872 211h1v1h-1zM871 212h1v1h-1zM870 213h1v2h-1zM869 215h1v2h-1zM868 217h1v1h-1zM867 218h1v2h-1zM866 220h1v2h-1zM865 222h1v1h-1zM864 223h1v2h-1zM863 225h1v2h-1zM862 227h1v2h-1zM861 229h1v1h-1zM860 230h1v2h-1zM859 232h1v2h-1zM858 234h1v2h-1zM857 236h1v2h-1zM856 238h1v3h-1zM855 241h1v2h-1zM854 243h1v3h-1zM853 246h1v2h-1zM852 248h1v2h-1zM851 250h1v3h-1zM850 253h1v2h-1zM849 255h1v3h-1zM848 258h1v2h-1zM847 260h1v3h-1zM846 263h1v2h-1zM845 265h1v2h-1zM844 267h1v1h-1zM843 268h1v1h-1zM842 269h1v1h-1zM841 270h1v1h-1zM840 271h1v1h-1zM839 272h1v1h-1zM838 273h1v1h-1zM837 274h1v1h-1zM836 275h1v1h-1zM835 276h1v1h-1zM834 277h1v1h-1zM833 278h1v1h-1zM832 279h1v2h-1zM831 281h1v1h-1zM830 282h1v1h-1zM829 283h1v2h-1zM828 285h1v1h-1zM827 286h1v1h-1zM826 287h1v2h-1zM825 289h1v1h-1zM824 290h1v2h-1zM823 292h1v1h-1zM822 293h1v1h-1zM423 294h25v1h-25zM821 294h1v2h-1zM413 295h10v1h-10zM448 295h7v1h-7zM407 296h6v1h-6zM455 296h1v1h-1zM820 296h1v2h-1zM402 297h5v1h-5zM456 297h2v1h-2zM400 298h2v1h-2zM458 298h1v1h-1zM819 298h1v2h-1zM398 299h2v1h-2zM459 299h1v1h-1zM395 300h3v1h-3zM460 300h2v1h-2zM818 300h1v2h-1zM393 301h2v1h-2zM462 301h1v1h-1zM385 302h8v1h-8zM463 302h1v1h-1zM817 302h1v3h-1zM378 303h7v1h-7zM464 303h2v1h-2zM377 304h1v1h-1zM466 304h1v1h-1zM376 305h1v1h-1zM467 305h4v1h-4zM816 305h1v2h-1zM375 306h1v1h-1zM471 306h6v1h-6zM374 307h1v1h-1zM477 307h6v1h-6zM815 307h1v3h-1zM373 308h1v1h-1zM483 308h6v1h-6zM372 309h1v1h-1zM489 309h4v1h-4zM371 310h1v1h-1zM493 310h1v1h-1zM814 310h1v2h-1zM370 311h1v1h-1zM494 311h1v1h-1zM369 312h1v1h-1zM495 312h1v1h-1zM813 312h1v2h-1zM368 313h1v1h-1zM496 313h1v1h-1zM367 314h1v1h-1zM497 314h1v1h-1zM812 314h1v3h-1zM365 315h2v1h-2zM498 315h1v2h-1zM362 316h3v1h-3zM358 317h4v1h-4zM499 317h1v1h-1zM811 317h1v2h-1zM355 318h3v1h-3zM500 318h1v1h-1zM353 319h2v1h-2zM501 319h1v1h-1zM810 319h1v3h-1zM351 320h2v1h-2zM502 320h1v1h-1zM350 321h1v1h-1zM503 321h1v1h-1zM348 322h2v1h-2zM504 322h1v1h-1zM809 322h1v2h-1zM347 323h1v1h-1zM505 323h1v1h-1zM346 324h1v1h-1zM506 324h2v1h-2zM808 324h1v2h-1zM344 325h2v1h-2zM508 325h1v1h-1zM343 326h1v1h-1zM509 326h1v1h-1zM807 326h1v3h-1zM341 327h2v1h-2zM510 327h2v1h-2zM340 328h1v1h-1zM512 328h1v1h-1zM164 329h19v1h-19zM234 329h9v1h-9zM339 329h1v1h-1zM513 329h1v1h-1zM806 329h1v2h-1zM183 330h10v1h-10zM211 330h23v1h-23zM243 330h6v1h-6zM338 330h1v1h-1zM514 330h2v1h-2zM193 331h6v1h-6zM205 331h6v1h-6zM249 331h5v1h-5zM337 331h1v1h-1zM516 331h1v1h-1zM668 331h5v1h-5zM805 331h1v3h-1zM199 332h6v1h-6zM254 332h3v1h-3zM336 332h1v1h-1zM517 332h1v1h-1zM665 332h3v1h-3zM673 332h6v1h-6zM257 333h4v1h-4zM335 333h1v1h-1zM518 333h2v1h-2zM661 333h4v1h-4zM679 333h19v1h-19zM261 334h3v1h-3zM334 334h1v1h-1zM520 334h2v1h-2zM658 334h3v1h-3zM698 334h6v1h-6zM804 334h1v2h-1zM264 335h5v1h-5zM333 335h1v1h-1zM522 335h1v1h-1zM655 335h3v1h-3zM704 335h3v1h-3zM269 336h6v1h-6zM332 336h1v1h-1zM523 336h2v1h-2zM652 336h3v1h-3zM707 336h2v1h-2zM803 336h1v2h-1zM275 337h6v1h-6zM331 337h1v1h-1zM525 337h1v1h-1zM648 337h4v1h-4zM709 337h2v1h-2zM281 338h6v1h-6zM330 338h1v1h-1zM526 338h2v1h-2zM645 338h3v1h-3zM711 338h2v1h-2zM802 338h1v3h-1zM287 339h7v1h-7zM329 339h1v1h-1zM528 339h2v1h-2zM642 339h3v1h-3zM713 339h2v1h-2zM294 340h6v1h-6zM325 340h4v1h-4zM530 340h2v1h-2zM640 340h2v1h-2zM715 340h2v1h-2zM300 341h9v1h-9zM319 341h6v1h-6zM532 341h2v1h-2zM638 341h2v1h-2zM717 341h2v1h-2zM801 341h1v2h-1zM309 342h10v1h-10zM534 342h2v1h-2zM635 342h3v1h-3zM719 342h1v1h-1zM536 343h2v1h-2zM633 343h2v1h-2zM720 343h2v1h-2zM800 343h1v3h-1zM538 344h2v1h-2zM631 344h2v1h-2zM722 344h2v1h-2zM540 345h2v1h-2zM630 345h1v1h-1zM724 345h1v1h-1zM542 346h2v1h-2zM629 346h1v1h-1zM725 346h2v1h-2zM799 346h1v2h-1zM544 347h3v1h-3zM627 347h2v1h-2zM727 347h1v1h-1zM547 348h4v1h-4zM626 348h1v1h-1zM728 348h2v1h-2zM798 348h1v2h-1zM551 349h3v1h-3zM625 349h1v1h-1zM730 349h2v1h-2zM554 350h8v1h-8zM624 350h1v1h-1zM732 350h1v1h-1zM797 350h1v3h-1zM562 351h8v1h-8zM623 351h1v1h-1zM733 351h2v1h-2zM570 352h3v1h-3zM621 352h2v1h-2zM735 352h2v1h-2zM573 353h3v1h-3zM620 353h1v1h-1zM737 353h2v1h-2zM796 353h1v2h-1zM576 354h3v1h-3zM619 354h1v1h-1zM739 354h1v1h-1zM579 355h5v1h-5zM616 355h3v1h-3zM740 355h2v1h-2zM795 355h1v2h-1zM584 356h6v1h-6zM612 356h4v1h-4zM742 356h2v1h-2zM590 357h10v1h-10zM608 357h4v1h-4zM744 357h3v1h-3zM793 357h2v1h-2zM600 358h8v1h-8zM747 358h4v1h-4zM791 358h2v1h-2zM751 359h4v1h-4zM790 359h1v1h-1zM755 360h5v1h-5zM788 360h2v1h-2zM760 361h4v1h-4zM787 361h1v1h-1zM764 362h4v1h-4zM785 362h2v1h-2zM768 363h9v1h-9zM783 363h2v1h-2zM777 364h6v1h-6z"/>
<path fill="#f4a838" d="M1019 167h10v1h-10zM1095 167h22v1h-22zM1013 168h6v1h-6zM1029 168h25v1h-25zM1089 168h6v1h-6zM1117 168h7v1h-7zM1008 169h5v1h-5zM1054 169h13v1h-13zM1080 169h9v1h-9zM1124 169h2v1h-2zM1005 170h3v1h-3zM1067 170h13v1h-13zM1126 170h2v1h-2zM1002 171h3v1h-3zM1128 171h2v1h-2zM971 172h5v1h-5zM999 172h3v1h-3zM1130 172h2v1h-2zM969 173h2v1h-2zM976 173h6v1h-6zM991 173h8v1h-8zM1132 173h2v1h-2zM967 174h2v1h-2zM982 174h9v1h-9zM1134 174h2v1h-2zM965 175h2v1h-2zM1136 175h2v1h-2zM963 176h2v1h-2zM1138 176h2v1h-2zM961 177h2v1h-2zM1140 177h3v1h-3zM1260 177h3v1h-3zM959 178h2v1h-2zM1143 178h2v1h-2zM1256 178h4v1h-4zM958 179h1v1h-1zM1145 179h2v1h-2zM1252 179h4v1h-4zM956 180h2v1h-2zM1147 180h4v1h-4zM1248 180h4v1h-4zM955 181h1v1h-1zM1151 181h4v1h-4zM1244 181h4v1h-4zM954 182h1v1h-1zM1155 182h4v1h-4zM1240 182h4v1h-4zM952 183h2v1h-2zM1159 183h5v1h-5zM1235 183h5v1h-5zM951 184h1v1h-1zM1164 184h4v1h-4zM1231 184h4v1h-4zM950 185h1v1h-1zM1168 185h4v1h-4zM1227 185h4v1h-4zM948 186h2v1h-2zM1172 186h5v1h-5zM1221 186h6v1h-6zM947 187h1v1h-1zM1177 187h4v1h-4zM1215 187h6v1h-6zM946 188h1v1h-1zM1181 188h4v1h-4zM1206 188h9v1h-9zM944 189h2v1h-2zM1185 189h21v1h-21zM943 190h1v1h-1zM941 191h2v1h-2zM940 192h1v1h-1zM938 193h2v1h-2zM937 194h1v1h-1zM935 195h2v1h-2zM934 196h1v1h-1zM932 197h2v1h-2zM930 198h2v1h-2zM928 199h2v1h-2zM926 200h2v1h-2zM924 201h2v1h-2zM922 202h2v1h-2zM921 203h1v1h-1zM920 204h1v1h-1zM919 205h1v1h-1zM918 206h1v1h-1zM917 207h1v1h-1zM916 208h1v1h-1zM915 209h1v1h-1zM914 210h1v1h-1zM913 211h1v1h-1zM912 212h1v1h-1zM911 213h1v1h-1zM910 214h1v1h-1zM909 215h1v1h-1zM908 216h1v1h-1zM907 217h1v2h-1zM906 219h1v1h-1zM905 220h1v2h-1zM904 222h1v1h-1zM903 223h1v2h-1zM902 225h1v1h-1zM901 226h1v2h-1zM900 228h1v1h-1zM899 229h1v2h-1zM898 231h1v1h-1zM897 232h1v2h-1zM895 234h2v1h-2zM893 235h2v1h-2zM890 236h3v1h-3zM887 237h3v1h-3zM885 238h2v1h-2zM883 239h2v1h-2zM882 240h1v1h-1zM881 241h1v1h-1zM880 242h1v1h-1zM879 243h1v1h-1zM878 244h1v1h-1zM877 245h1v2h-1zM876 247h1v1h-1zM875 248h1v1h-1zM874 249h1v1h-1zM873 250h1v1h-1zM872 251h1v1h-1zM871 252h1v1h-1zM870 253h1v2h-1zM869 255h1v1h-1zM868 256h1v2h-1zM867 258h1v1h-1zM866 259h1v2h-1zM865 261h1v1h-1zM864 262h1v2h-1zM863 264h1v2h-1zM862 266h1v1h-1zM861 267h1v2h-1zM860 269h1v1h-1zM859 270h1v2h-1zM858 272h1v1h-1zM857 273h1v2h-1zM856 275h1v2h-1zM855 277h1v2h-1zM854 279h1v1h-1zM853 280h1v2h-1zM852 282h1v2h-1zM851 284h1v2h-1zM850 286h1v2h-1zM849 288h1v1h-1zM848 289h1v2h-1zM847 291h1v2h-1zM846 293h1v2h-1zM845 295h1v1h-1zM844 296h1v1h-1zM843 297h1v1h-1zM842 298h1v1h-1zM841 299h1v1h-1zM439 300h17v1h-17zM840 300h1v1h-1zM433 301h6v1h-6zM456 301h3v1h-3zM838 301h2v1h-2zM427 302h6v1h-6zM459 302h4v1h-4zM837 302h1v1h-1zM423 303h4v1h-4zM463 303h3v1h-3zM836 303h1v1h-1zM419 304h4v1h-4zM466 304h5v1h-5zM835 304h1v1h-1zM415 305h4v1h-4zM471 305h6v1h-6zM834 305h1v1h-1zM412 306h3v1h-3zM477 306h9v1h-9zM833 306h1v1h-1zM408 307h4v1h-4zM486 307h7v1h-7zM832 307h1v1h-1zM405 308h3v1h-3zM493 308h2v1h-2zM831 308h1v1h-1zM402 309h3v1h-3zM495 309h1v1h-1zM830 309h1v1h-1zM398 310h4v1h-4zM496 310h2v1h-2zM829 310h1v1h-1zM394 311h4v1h-4zM498 311h1v1h-1zM828 311h1v1h-1zM389 312h5v1h-5zM499 312h2v1h-2zM827 312h1v1h-1zM385 313h4v1h-4zM501 313h1v1h-1zM826 313h1v2h-1zM381 314h4v1h-4zM502 314h2v1h-2zM378 315h3v1h-3zM504 315h2v1h-2zM825 315h1v1h-1zM376 316h2v1h-2zM506 316h2v1h-2zM824 316h1v1h-1zM375 317h1v1h-1zM508 317h2v1h-2zM823 317h1v1h-1zM373 318h2v1h-2zM510 318h2v1h-2zM822 318h1v1h-1zM372 319h1v1h-1zM512 319h2v1h-2zM821 319h1v1h-1zM370 320h2v1h-2zM514 320h2v1h-2zM820 320h1v1h-1zM369 321h1v1h-1zM516 321h2v1h-2zM819 321h1v2h-1zM367 322h2v1h-2zM518 322h2v1h-2zM364 323h3v1h-3zM520 323h2v1h-2zM818 323h1v1h-1zM164 324h16v1h-16zM360 324h4v1h-4zM522 324h2v1h-2zM817 324h1v2h-1zM180 325h6v1h-6zM356 325h4v1h-4zM524 325h2v1h-2zM186 326h7v1h-7zM352 326h4v1h-4zM526 326h2v1h-2zM816 326h1v1h-1zM193 327h6v1h-6zM234 327h9v1h-9zM350 327h2v1h-2zM528 327h2v1h-2zM815 327h1v2h-1zM199 328h35v1h-35zM243 328h6v1h-6zM347 328h3v1h-3zM530 328h2v1h-2zM249 329h7v1h-7zM344 329h3v1h-3zM532 329h2v1h-2zM814 329h1v1h-1zM256 330h6v1h-6zM342 330h2v1h-2zM534 330h3v1h-3zM813 330h1v2h-1zM262 331h7v1h-7zM340 331h2v1h-2zM537 331h2v1h-2zM269 332h6v1h-6zM338 332h2v1h-2zM539 332h2v1h-2zM812 332h1v2h-1zM275 333h5v1h-5zM336 333h2v1h-2zM541 333h3v1h-3zM280 334h4v1h-4zM334 334h2v1h-2zM544 334h2v1h-2zM811 334h1v1h-1zM284 335h4v1h-4zM332 335h2v1h-2zM546 335h3v1h-3zM810 335h1v2h-1zM288 336h9v1h-9zM330 336h2v1h-2zM549 336h3v1h-3zM667 336h34v1h-34zM297 337h12v1h-12zM322 337h8v1h-8zM552 337h2v1h-2zM663 337h4v1h-4zM701 337h7v1h-7zM809 337h1v1h-1zM309 338h13v1h-13zM554 338h4v1h-4zM659 338h4v1h-4zM708 338h2v1h-2zM808 338h1v2h-1zM558 339h4v1h-4zM653 339h6v1h-6zM710 339h3v1h-3zM562 340h4v1h-4zM647 340h6v1h-6zM713 340h3v1h-3zM807 340h1v1h-1zM566 341h4v1h-4zM642 341h5v1h-5zM716 341h2v1h-2zM806 341h1v1h-1zM570 342h3v1h-3zM639 342h3v1h-3zM718 342h3v1h-3zM805 342h1v1h-1zM573 343h3v1h-3zM636 343h3v1h-3zM721 343h3v1h-3zM804 343h1v2h-1zM576 344h3v1h-3zM633 344h3v1h-3zM724 344h4v1h-4zM579 345h4v1h-4zM630 345h3v1h-3zM728 345h3v1h-3zM803 345h1v1h-1zM583 346h4v1h-4zM628 346h2v1h-2zM731 346h3v1h-3zM802 346h1v1h-1zM587 347h4v1h-4zM625 347h3v1h-3zM734 347h3v1h-3zM801 347h1v1h-1zM591 348h6v1h-6zM622 348h3v1h-3zM737 348h3v1h-3zM800 348h1v1h-1zM597 349h6v1h-6zM620 349h2v1h-2zM740 349h3v1h-3zM799 349h1v1h-1zM603 350h17v1h-17zM743 350h5v1h-5zM798 350h1v2h-1zM748 351h6v1h-6zM754 352h6v1h-6zM797 352h1v1h-1zM760 353h4v1h-4zM796 353h1v1h-1zM764 354h4v1h-4zM792 354h4v1h-4zM768 355h9v1h-9zM786 355h6v1h-6zM777 356h9v1h-9z"/>
<rect x="175" y="316" width="1" height="3" fill="#f8c898"/>
<rect x="176" y="317" width="1" height="2" fill="#f8c898"/>
<rect x="188" y="320" width="1" height="3" fill="#f8c898"/>
<rect x="189" y="321" width="1" height="2" fill="#f8c898"/>
<rect x="200" y="323" width="1" height="3" fill="#f8c898"/>
<rect x="201" y="324" width="1" height="2" fill="#f8c898"/>
<rect x="213" y="326" width="1" height="3" fill="#f8c898"/>
<rect x="214" y="327" width="1" height="2" fill="#f8c898"/>
<rect x="226" y="347" width="1" height="3" fill="#f8c898"/>
<rect x="227" y="348" width="1" height="2" fill="#f8c898"/>
<rect x="238" y="346" width="1" height="3" fill="#f8c898"/>
<rect x="239" y="347" width="1" height="2" fill="#f8c898"/>
<rect x="251" y="345" width="1" height="3" fill="#f8c898"/>
<rect x="252" y="346" width="1" height="2" fill="#f8c898"/>
<rect x="264" y="344" width="1" height="3" fill="#f8c898"/>
<rect x="265" y="345" width="1" height="2" fill="#f8c898"/>
<rect x="276" y="317" width="1" height="3" fill="#f8c898"/>
<rect x="277" y="318" width="1" height="2" fill="#f8c898"/>
<rect x="289" y="317" width="1" height="3" fill="#f8c898"/>
<rect x="290" y="318" width="1" height="2" fill="#f8c898"/>
<rect x="301" y="318" width="1" height="3" fill="#f8c898"/>
<rect x="302" y="319" width="1" height="2" fill="#f8c898"/>
<rect x="314" y="321" width="1" height="3" fill="#f8c898"/>
<rect x="315" y="322" width="1" height="2" fill="#f8c898"/>
<rect x="327" y="323" width="1" height="3" fill="#f8c898"/>
<rect x="328" y="324" width="1" height="2" fill="#f8c898"/>
<rect x="339" y="325" width="1" height="3" fill="#f8c898"/>
<rect x="340" y="326" width="1" height="2" fill="#f8c898"/>
<rect x="352" y="357" width="1" height="3" fill="#f8c898"/>
<rect x="353" y="358" width="1" height="2" fill="#f8c898"/>
<rect x="365" y="356" width="1" height="3" fill="#f8c898"/>
<rect x="366" y="357" width="1" height="2" fill="#f8c898"/>
<rect x="377" y="355" width="1" height="3" fill="#f8c898"/>
<rect x="378" y="356" width="1" height="2" fill="#f8c898"/>
<rect x="390" y="351" width="1" height="3" fill="#f8c898"/>
<rect x="391" y="352" width="1" height="2" fill="#f8c898"/>
<rect x="402" y="348" width="1" height="3" fill="#f8c898"/>
<rect x="403" y="349" width="1" height="2" fill="#f8c898"/>
<rect x="415" y="345" width="1" height="3" fill="#f8c898"/>
<rect x="416" y="346" width="1" height="2" fill="#f8c898"/>
<rect x="428" y="342" width="1" height="3" fill="#f8c898"/>
<rect x="429" y="343" width="1" height="2" fill="#f8c898"/>
<rect x="440" y="340" width="1" height="3" fill="#f8c898"/>
<rect x="441" y="341" width="1" height="2" fill="#f8c898"/>
<rect x="453" y="337" width="1" height="3" fill="#f8c898"/>
<rect x="454" y="338" width="1" height="2" fill="#f8c898"/>
<rect x="466" y="334" width="1" height="3" fill="#f8c898"/>
<rect x="467" y="335" width="1" height="2" fill="#f8c898"/>
<rect x="478" y="332" width="1" height="3" fill="#f8c898"/>
<rect x="479" y="333" width="1" height="2" fill="#f8c898"/>
<rect x="491" y="330" width="1" height="3" fill="#f8c898"/>
<rect x="492" y="331" width="1" height="2" fill="#f8c898"/>
<rect x="503" y="327" width="1" height="3" fill="#f8c898"/>
<rect x="504" y="328" width="1" height="2" fill="#f8c898"/>
<rect x="516" y="274" width="1" height="3" fill="#f8c898"/>
<rect x="517" y="275" width="1" height="2" fill="#f8c898"/>
<rect x="529" y="275" width="1" height="3" fill="#f8c898"/>
<rect x="530" y="276" width="1" height="2" fill="#f8c898"/>
<rect x="541" y="278" width="1" height="3" fill="#f8c898"/>
<rect x="542" y="279" width="1" height="2" fill="#f8c898"/>
<rect x="554" y="283" width="1" height="3" fill="#f8c898"/>
<rect x="555" y="284" width="1" height="2" fill="#f8c898"/>
<rect x="567" y="288" width="1" height="3" fill="#f8c898"/>
<rect x="568" y="289" width="1" height="2" fill="#f8c898"/>
<rect x="579" y="292" width="1" height="3" fill="#f8c898"/>
<rect x="580" y="293" width="1" height="2" fill="#f8c898"/>
<rect x="592" y="297" width="1" height="3" fill="#f8c898"/>
<rect x="593" y="298" width="1" height="2" fill="#f8c898"/>
<rect x="604" y="302" width="1" height="3" fill="#f8c898"/>
<rect x="605" y="303" width="1" height="2" fill="#f8c898"/>
<rect x="617" y="307" width="1" height="3" fill="#f8c898"/>
<rect x="618" y="308" width="1" height="2" fill="#f8c898"/>
<rect x="630" y="311" width="1" height="3" fill="#f8c898"/>
<rect x="631" y="312" width="1" height="2" fill="#f8c898"/>
<rect x="642" y="315" width="1" height="3" fill="#f8c898"/>
<rect x="643" y="316" width="1" height="2" fill="#f8c898"/>
<rect x="655" y="360" width="1" height="3" fill="#f8c898"/>
<rect x="656" y="361" width="1" height="2" fill="#f8c898"/>
<rect x="668" y="359" width="1" height="3" fill="#f8c898"/>
<rect x="669" y="360" width="1" height="2" fill="#f8c898"/>
<rect x="680" y="357" width="1" height="3" fill="#f8c898"/>
<rect x="681" y="358" width="1" height="2" fill="#f8c898"/>
<rect x="693" y="356" width="1" height="3" fill="#f8c898"/>
<rect x="694" y="357" width="1" height="2" fill="#f8c898"/>
<rect x="705" y="354" width="1" height="3" fill="#f8c898"/>
<rect x="706" y="355" width="1" height="2" fill="#f8c898"/>
<rect x="718" y="353" width="1" height="3" fill="#f8c898"/>
<rect x="719" y="354" width="1" height="2" fill="#f8c898"/>
<rect x="731" y="317" width="1" height="3" fill="#f8c898"/>
<rect x="732" y="318" width="1" height="2" fill="#f8c898"/>
<rect x="743" y="318" width="1" height="3" fill="#f8c898"/>
<rect x="744" y="319" width="1" height="2" fill="#f8c898"/>
<rect x="756" y="320" width="1" height="3" fill="#f8c898"/>
<rect x="757" y="321" width="1" height="2" fill="#f8c898"/>
<rect x="769" y="323" width="1" height="3" fill="#f8c898"/>
<rect x="770" y="324" width="1" height="2" fill="#f8c898"/>
<rect x="781" y="326" width="1" height="3" fill="#f8c898"/>
<rect x="782" y="327" width="1" height="2" fill="#f8c898"/>
<rect x="794" y="328" width="1" height="3" fill="#f8c898"/>
<rect x="795" y="329" width="1" height="2" fill="#f8c898"/>
<rect x="806" y="330" width="1" height="3" fill="#f8c898"/>
<rect x="807" y="331" width="1" height="2" fill="#f8c898"/>
<rect x="819" y="371" width="1" height="3" fill="#f8c898"/>
<rect x="820" y="372" width="1" height="2" fill="#f8c898"/>
<rect x="832" y="368" width="1" height="3" fill="#f8c898"/>
<rect x="833" y="369" width="1" height="2" fill="#f8c898"/>
<rect x="844" y="365" width="1" height="3" fill="#f8c898"/>
<rect x="845" y="366" width="1" height="2" fill="#f8c898"/>
<rect x="857" y="359" width="1" height="3" fill="#f8c898"/>
<rect x="858" y="360" width="1" height="2" fill="#f8c898"/>
<rect x="870" y="347" width="1" height="3" fill="#f8c898"/>
<rect x="871" y="348" width="1" height="2" fill="#f8c898"/>
<rect x="882" y="330" width="1" height="3" fill="#f8c898"/>
<rect x="883" y="331" width="1" height="2" fill="#f8c898"/>
<rect x="895" y="315" width="1" height="3" fill="#f8c898"/>
<rect x="896" y="316" width="1" height="2" fill="#f8c898"/>
<rect x="907" y="300" width="1" height="3" fill="#f8c898"/>
<rect x="908" y="301" width="1" height="2" fill="#f8c898"/>
<rect x="920" y="284" width="1" height="3" fill="#f8c898"/>
<rect x="921" y="285" width="1" height="2" fill="#f8c898"/>
<rect x="933" y="269" width="1" height="3" fill="#f8c898"/>
<rect x="934" y="270" width="1" height="2" fill="#f8c898"/>
<rect x="945" y="255" width="1" height="3" fill="#f8c898"/>
<rect x="946" y="256" width="1" height="2" fill="#f8c898"/>
<rect x="958" y="243" width="1" height="3" fill="#f8c898"/>
<rect x="959" y="244" width="1" height="2" fill="#f8c898"/>
<rect x="971" y="229" width="1" height="3" fill="#f8c898"/>
<rect x="972" y="230" width="1" height="2" fill="#f8c898"/>
<rect x="983" y="216" width="1" height="3" fill="#f8c898"/>
<rect x="984" y="217" width="1" height="2" fill="#f8c898"/>
<rect x="996" y="205" width="1" height="3" fill="#f8c898"/>
<rect x="997" y="206" width="1" height="2" fill="#f8c898"/>
<rect x="1008" y="195" width="1" height="3" fill="#f8c898"/>
<rect x="1009" y="196" width="1" height="2" fill="#f8c898"/>
<rect x="1021" y="186" width="1" height="3" fill="#f8c898"/>
<rect x="1022" y="187" width="1" height="2" fill="#f8c898"/>
<rect x="1034" y="178" width="1" height="3" fill="#f8c898"/>
<rect x="1035" y="179" width="1" height="2" fill="#f8c898"/>
<rect x="1046" y="172" width="1" height="3" fill="#f8c898"/>
<rect x="1047" y="173" width="1" height="2" fill="#f8c898"/>
<rect x="1059" y="122" width="1" height="3" fill="#f8c898"/>
<rect x="1060" y="123" width="1" height="2" fill="#f8c898"/>
<rect x="1072" y="123" width="1" height="3" fill="#f8c898"/>
<rect x="1073" y="124" width="1" height="2" fill="#f8c898"/>
<rect x="1084" y="126" width="1" height="3" fill="#f8c898"/>
<rect x="1085" y="127" width="1" height="2" fill="#f8c898"/>
<rect x="1097" y="128" width="1" height="3" fill="#f8c898"/>
<rect x="1098" y="129" width="1" height="2" fill="#f8c898"/>
<rect x="1109" y="130" width="1" height="3" fill="#f8c898"/>
<rect x="1110" y="131" width="1" height="2" fill="#f8c898"/>
<rect x="1122" y="132" width="1" height="3" fill="#f8c898"/>
<rect x="1123" y="133" width="1" height="2" fill="#f8c898"/>
<rect x="1135" y="135" width="1" height="3" fill="#f8c898"/>
<rect x="1136" y="136" width="1" height="2" fill="#f8c898"/>
<rect x="1147" y="139" width="1" height="3" fill="#f8c898"/>
<rect x="1148" y="140" width="1" height="2" fill="#f8c898"/>
<rect x="1160" y="144" width="1" height="3" fill="#f8c898"/>
<rect x="1161" y="145" width="1" height="2" fill="#f8c898"/>
<rect x="1173" y="148" width="1" height="3" fill="#f8c898"/>
<rect x="1174" y="149" width="1" height="2" fill="#f8c898"/>
<rect x="1185" y="152" width="1" height="3" fill="#f8c898"/>
<rect x="1186" y="153" width="1" height="2" fill="#f8c898"/>
<rect x="1198" y="156" width="1" height="3" fill="#f8c898"/>
<rect x="1199" y="157" width="1" height="2" fill="#f8c898"/>
<rect x="1210" y="159" width="1" height="3" fill="#f8c898"/>
<rect x="1211" y="160" width="1" height="2" fill="#f8c898"/>
<rect x="1223" y="163" width="1" height="3" fill="#f8c898"/>
<rect x="1224" y="164" width="1" height="2" fill="#f8c898"/>
<rect x="1236" y="166" width="1" height="3" fill="#f8c898"/>
<rect x="1237" y="167" width="1" height="2" fill="#f8c898"/>
<rect x="1248" y="169" width="1" height="3" fill="#f8c898"/>
<rect x="1249" y="170" width="1" height="2" fill="#f8c898"/>
<rect x="1261" y="214" width="1" height="3" fill="#f8c898"/>
<rect x="1262" y="215" width="1" height="2" fill="#f8c898"/>
<rect x="189" y="306" width="1" height="17" fill="#ff6414"/>
<rect x="182" y="290" width="14" height="15" fill="#ff6414"/>
<text x="189.2" y="300.6" fill="#fa6e18" font-size="11" text-anchor="middle" stroke="#fa6e18" stroke-width="0.25" style="white-space:pre">S</text>
<rect x="252" y="303" width="1" height="15" fill="#ff6414"/>
<rect x="245" y="287" width="14" height="15" fill="#ff6414"/>
<text x="252.2" y="297.6" fill="#fa6e18" font-size="11" text-anchor="middle" stroke="#fa6e18" stroke-width="0.25" style="white-space:pre">S</text>
<rect x="467" y="281" width="1" height="15" fill="#ff6414"/>
<rect x="460" y="265" width="14" height="15" fill="#ff6414"/>
<text x="467.2" y="275.6" fill="#fa6e18" font-size="11" text-anchor="middle" stroke="#fa6e18" stroke-width="0.25" style="white-space:pre">S</text>
<rect x="719" y="311" width="1" height="15" fill="#ff6414"/>
<rect x="712" y="295" width="14" height="15" fill="#ff6414"/>
<text x="719.2" y="305.6" fill="#fa6e18" font-size="11" text-anchor="middle" stroke="#fa6e18" stroke-width="0.25" style="white-space:pre">S</text>
<rect x="946" y="127" width="1" height="15" fill="#ff6414"/>
<rect x="939" y="111" width="14" height="15" fill="#ff6414"/>
<text x="946.2" y="121.6" fill="#fa6e18" font-size="11" text-anchor="middle" stroke="#fa6e18" stroke-width="0.25" style="white-space:pre">S</text>
<rect x="972" y="109" width="1" height="15" fill="#ff6414"/>
<rect x="965" y="93" width="14" height="15" fill="#ff6414"/>
<text x="972.2" y="103.6" fill="#fa6e18" font-size="11" text-anchor="middle" stroke="#fa6e18" stroke-width="0.25" style="white-space:pre">S</text>
<rect x="176" y="353" width="1" height="31" fill="#4c8e96"/>
<rect x="169" y="383" width="14" height="15" fill="#4c8e96"/>
<text x="176.2" y="393.6" fill="#060a1c" font-size="11" text-anchor="middle" stroke="#060a1c" stroke-width="0.25" style="white-space:pre">B</text>
<rect x="214" y="348" width="1" height="31" fill="#4c8e96"/>
<rect x="207" y="378" width="14" height="15" fill="#4c8e96"/>
<text x="214.2" y="388.6" fill="#060a1c" font-size="11" text-anchor="middle" stroke="#060a1c" stroke-width="0.25" style="white-space:pre">B</text>
<rect x="328" y="361" width="1" height="31" fill="#4c8e96"/>
<rect x="321" y="391" width="14" height="15" fill="#4c8e96"/>
<text x="328.2" y="401.6" fill="#060a1c" font-size="11" text-anchor="middle" stroke="#060a1c" stroke-width="0.25" style="white-space:pre">B</text>
<rect x="618" y="369" width="1" height="31" fill="#4c8e96"/>
<rect x="611" y="399" width="14" height="15" fill="#4c8e96"/>
<text x="618.2" y="409.6" fill="#060a1c" font-size="11" text-anchor="middle" stroke="#060a1c" stroke-width="0.25" style="white-space:pre">B</text>
<rect x="795" y="372" width="1" height="31" fill="#4c8e96"/>
<rect x="788" y="402" width="14" height="15" fill="#4c8e96"/>
<text x="795.2" y="412.6" fill="#060a1c" font-size="11" text-anchor="middle" stroke="#060a1c" stroke-width="0.25" style="white-space:pre">B</text>
<rect x="959" y="178" width="1" height="31" fill="#4c8e96"/>
<rect x="952" y="208" width="14" height="15" fill="#4c8e96"/>
<text x="959.2" y="218.6" fill="#060a1c" font-size="11" text-anchor="middle" stroke="#060a1c" stroke-width="0.25" style="white-space:pre">B</text>
<rect x="1211" y="207" width="1" height="31" fill="#4c8e96"/>
<rect x="1204" y="237" width="14" height="15" fill="#4c8e96"/>
<text x="1211.2" y="247.6" fill="#060a1c" font-size="11" text-anchor="middle" stroke="#060a1c" stroke-width="0.25" style="white-space:pre">B</text>
<rect x="340" y="350" width="1" height="31" fill="#0a5cc4"/>
<rect x="333" y="380" width="14" height="15" fill="#0a5cc4"/>
<text x="340.2" y="390.6" fill="#f0e878" font-size="11" text-anchor="middle" stroke="#f0e878" stroke-width="0.25" style="white-space:pre">B</text>
<rect x="631" y="361" width="1" height="31" fill="#0a5cc4"/>
<rect x="624" y="391" width="14" height="15" fill="#0a5cc4"/>
<text x="631.2" y="401.6" fill="#f0e878" font-size="11" text-anchor="middle" stroke="#f0e878" stroke-width="0.25" style="white-space:pre">B</text>
<rect x="807" y="331" width="1" height="29" fill="#0a5cc4"/>
<rect x="800" y="359" width="14" height="15" fill="#0a5cc4"/>
<text x="807.2" y="369.6" fill="#f0e878" font-size="11" text-anchor="middle" stroke="#f0e878" stroke-width="0.25" style="white-space:pre">B</text>
<rect x="1085" y="188" width="1" height="31" fill="#0a5cc4"/>
<rect x="1078" y="218" width="14" height="15" fill="#0a5cc4"/>
<text x="1085.2" y="228.6" fill="#f0e878" font-size="11" text-anchor="middle" stroke="#f0e878" stroke-width="0.25" style="white-space:pre">B</text>
<rect x="1224" y="190" width="1" height="32" fill="#0a5cc4"/>
<rect x="1217" y="221" width="14" height="15" fill="#0a5cc4"/>
<text x="1224.2" y="231.6" fill="#f0e878" font-size="11" text-anchor="middle" stroke="#f0e878" stroke-width="0.25" style="white-space:pre">B</text>
<rect x="1073" y="152" width="1" height="15" fill="#e0086c"/>
<rect x="1066" y="136" width="14" height="15" fill="#e0086c"/>
<text x="1073.2" y="146.6" fill="#84e020" font-size="11" text-anchor="middle" stroke="#84e020" stroke-width="0.25" style="white-space:pre">S</text>
<rect x="1123" y="141" width="1" height="15" fill="#e0086c"/>
<rect x="1116" y="125" width="14" height="15" fill="#e0086c"/>
<text x="1123.2" y="135.6" fill="#84e020" font-size="11" text-anchor="middle" stroke="#84e020" stroke-width="0.25" style="white-space:pre">S</text>
<rect x="0" y="483" width="1276" height="1" fill="#ffff1e"/>
<line x1="0" y1="556.5" x2="1262" y2="556.5" stroke="#8c8c14" stroke-width="1" stroke-dasharray="4 3"/>
<rect x="88" y="556" width="1" height="2" fill="#ff0000"/>
<rect x="100" y="556" width="1" height="2" fill="#ff0000"/>
<rect x="113" y="556" width="1" height="2" fill="#ff0000"/>
<rect x="126" y="556" width="1" height="2" fill="#ff0000"/>
<rect x="138" y="556" width="1" height="2" fill="#ff0000"/>
<rect x="151" y="556" width="1" height="2" fill="#00ff00"/>
<rect x="164" y="556" width="1" height="2" fill="#ff0000"/>
<rect x="176" y="556" width="1" height="2" fill="#00ff00"/>
<rect x="189" y="556" width="1" height="2" fill="#ff0000"/>
<rect x="201" y="556" width="1" height="2" fill="#00ff00"/>
<rect x="340" y="553" width="1" height="2" fill="#00ff00"/>
<rect x="353" y="550" width="1" height="5" fill="#00ff00"/>
<rect x="366" y="549" width="1" height="6" fill="#00ff00"/>
<rect x="378" y="547" width="1" height="8" fill="#00ff00"/>
<rect x="391" y="547" width="1" height="8" fill="#ff0000"/>
<rect x="403" y="547" width="1" height="8" fill="#00ff00"/>
<rect x="416" y="548" width="1" height="7" fill="#ff0000"/>
<rect x="429" y="549" width="1" height="6" fill="#ff0000"/>
<rect x="441" y="550" width="1" height="5" fill="#ff0000"/>
<rect x="454" y="551" width="1" height="4" fill="#ff0000"/>
<rect x="467" y="554" width="1" height="1" fill="#ff0000"/>
<rect x="504" y="556" width="1" height="4" fill="#ff0000"/>
<rect x="517" y="556" width="1" height="5" fill="#ff0000"/>
<rect x="530" y="556" width="1" height="7" fill="#ff0000"/>
<rect x="542" y="556" width="1" height="8" fill="#ff0000"/>
<rect x="555" y="556" width="1" height="8" fill="#00ff00"/>
<rect x="568" y="556" width="1" height="6" fill="#00ff00"/>
<rect x="580" y="556" width="1" height="6" fill="#00ff00"/>
<rect x="593" y="556" width="1" height="5" fill="#00ff00"/>
<rect x="605" y="556" width="1" height="4" fill="#00ff00"/>
<rect x="618" y="556" width="1" height="3" fill="#00ff00"/>
<rect x="643" y="553" width="1" height="2" fill="#00ff00"/>
<rect x="656" y="552" width="1" height="3" fill="#00ff00"/>
<rect x="669" y="551" width="1" height="4" fill="#00ff00"/>
<rect x="681" y="552" width="1" height="3" fill="#ff0000"/>
<rect x="694" y="552" width="1" height="3" fill="#ff0000"/>
<rect x="706" y="552" width="1" height="3" fill="#ff0000"/>
<rect x="719" y="554" width="1" height="1" fill="#ff0000"/>
<rect x="744" y="556" width="1" height="2" fill="#ff0000"/>
<rect x="757" y="556" width="1" height="3" fill="#ff0000"/>
<rect x="770" y="556" width="1" height="3" fill="#ff0000"/>
<rect x="782" y="556" width="1" height="3" fill="#00ff00"/>
<rect x="807" y="549" width="1" height="6" fill="#00ff00"/>
<rect x="820" y="541" width="1" height="14" fill="#00ff00"/>
<rect x="833" y="538" width="1" height="17" fill="#00ff00"/>
<rect x="845" y="537" width="1" height="18" fill="#00ff00"/>
<rect x="858" y="533" width="1" height="22" fill="#00ff00"/>
<rect x="871" y="530" width="1" height="25" fill="#00ff00"/>
<rect x="883" y="531" width="1" height="24" fill="#ff0000"/>
<rect x="896" y="536" width="1" height="19" fill="#ff0000"/>
<rect x="908" y="534" width="1" height="21" fill="#00ff00"/>
<rect x="921" y="535" width="1" height="20" fill="#ff0000"/>
<rect x="934" y="538" width="1" height="17" fill="#ff0000"/>
<rect x="946" y="542" width="1" height="13" fill="#ff0000"/>
<rect x="959" y="543" width="1" height="12" fill="#ff0000"/>
<rect x="972" y="545" width="1" height="10" fill="#ff0000"/>
<rect x="984" y="551" width="1" height="4" fill="#ff0000"/>
<rect x="997" y="553" width="1" height="2" fill="#ff0000"/>
<rect x="1022" y="556" width="1" height="2" fill="#ff0000"/>
<rect x="1035" y="556" width="1" height="4" fill="#ff0000"/>
<rect x="1047" y="556" width="1" height="6" fill="#ff0000"/>
<rect x="1060" y="556" width="1" height="7" fill="#ff0000"/>
<rect x="1073" y="556" width="1" height="8" fill="#ff0000"/>
<rect x="1085" y="556" width="1" height="8" fill="#00ff00"/>
<rect x="1098" y="556" width="1" height="6" fill="#00ff00"/>
<rect x="1110" y="556" width="1" height="8" fill="#ff0000"/>
<rect x="1123" y="556" width="1" height="8" fill="#ff0000"/>
<rect x="1136" y="556" width="1" height="10" fill="#ff0000"/>
<rect x="1148" y="556" width="1" height="12" fill="#ff0000"/>
<rect x="1161" y="556" width="1" height="12" fill="#ff0000"/>
<rect x="1174" y="556" width="1" height="12" fill="#00ff00"/>
<rect x="1186" y="556" width="1" height="12" fill="#00ff00"/>
<rect x="1199" y="556" width="1" height="10" fill="#00ff00"/>
<rect x="1211" y="556" width="1" height="8" fill="#00ff00"/>
<rect x="1224" y="556" width="1" height="6" fill="#00ff00"/>
<rect x="1237" y="556" width="1" height="5" fill="#00ff00"/>
<rect x="1249" y="556" width="1" height="2" fill="#00ff00"/>
<path fill="#e0b088" d="M956 496h18v1h-18zM950 497h6v1h-6zM974 497h3v1h-3zM928 498h22v1h-22zM977 498h3v1h-3zM920 499h8v1h-8zM980 499h3v1h-3zM917 500h3v1h-3zM983 500h4v1h-4zM913 501h4v1h-4zM987 501h4v1h-4zM910 502h3v1h-3zM991 502h4v1h-4zM908 503h2v1h-2zM995 503h9v1h-9zM906 504h2v1h-2zM1004 504h9v1h-9zM904 505h2v1h-2zM1013 505h6v1h-6zM902 506h2v1h-2zM1019 506h5v1h-5zM900 507h2v1h-2zM1024 507h3v1h-3zM898 508h2v1h-2zM1027 508h4v1h-4zM890 509h8v1h-8zM1031 509h3v1h-3zM882 510h8v1h-8zM1034 510h4v1h-4zM880 511h2v1h-2zM1038 511h4v1h-4zM878 512h2v1h-2zM1042 512h4v1h-4zM875 513h3v1h-3zM1046 513h4v1h-4zM873 514h2v1h-2zM1050 514h4v1h-4zM871 515h2v1h-2zM1054 515h4v1h-4zM869 516h2v1h-2zM1058 516h4v1h-4zM867 517h2v1h-2zM1062 517h3v1h-3zM866 518h1v1h-1zM1065 518h4v1h-4zM864 519h2v1h-2zM1069 519h3v1h-3zM863 520h1v1h-1zM1072 520h8v1h-8zM861 521h2v1h-2zM1080 521h9v1h-9zM859 522h2v1h-2zM1089 522h6v1h-6zM858 523h1v1h-1zM1095 523h7v1h-7zM857 524h1v1h-1zM1102 524h6v1h-6zM856 525h1v1h-1zM1108 525h5v1h-5zM854 526h2v1h-2zM1113 526h4v1h-4zM853 527h1v1h-1zM1117 527h4v1h-4zM852 528h1v1h-1zM1121 528h4v1h-4zM851 529h1v1h-1zM1125 529h3v1h-3zM850 530h1v1h-1zM1128 530h4v1h-4zM848 531h2v1h-2zM1132 531h3v1h-3zM847 532h1v1h-1zM1135 532h3v1h-3zM846 533h1v1h-1zM1138 533h2v1h-2zM844 534h2v1h-2zM1140 534h3v1h-3zM842 535h2v1h-2zM1143 535h2v1h-2zM840 536h2v1h-2zM1145 536h2v1h-2zM837 537h3v1h-3zM1147 537h3v1h-3zM835 538h2v1h-2zM1150 538h3v1h-3zM833 539h2v1h-2zM1153 539h4v1h-4zM831 540h2v1h-2zM1157 540h3v1h-3zM829 541h2v1h-2zM1160 541h5v1h-5zM827 542h2v1h-2zM1165 542h6v1h-6zM825 543h2v1h-2zM1171 543h6v1h-6zM1259 543h4v1h-4zM823 544h2v1h-2zM1177 544h4v1h-4zM1253 544h6v1h-6zM423 545h34v1h-34zM821 545h2v1h-2zM1181 545h4v1h-4zM1244 545h9v1h-9zM410 546h13v1h-13zM457 546h4v1h-4zM820 546h1v1h-1zM1185 546h8v1h-8zM1231 546h13v1h-13zM402 547h8v1h-8zM461 547h4v1h-4zM819 547h1v1h-1zM1193 547h38v1h-38zM398 548h4v1h-4zM465 548h9v1h-9zM818 548h1v1h-1zM394 549h4v1h-4zM474 549h9v1h-9zM817 549h1v1h-1zM388 550h6v1h-6zM483 550h6v1h-6zM816 550h1v1h-1zM382 551h6v1h-6zM489 551h5v1h-5zM815 551h1v1h-1zM377 552h5v1h-5zM494 552h2v1h-2zM813 552h2v1h-2zM373 553h4v1h-4zM496 553h3v1h-3zM812 553h1v1h-1zM369 554h4v1h-4zM499 554h2v1h-2zM811 554h1v1h-1zM13 555h71v1h-71zM363 555h6v1h-6zM501 555h2v1h-2zM810 555h1v1h-1zM84 556h3v1h-3zM357 556h6v1h-6zM503 556h3v1h-3zM809 556h1v1h-1zM87 557h8v1h-8zM352 557h5v1h-5zM506 557h3v1h-3zM808 557h1v1h-1zM95 558h18v1h-18zM348 558h4v1h-4zM509 558h4v1h-4zM807 558h1v1h-1zM113 559h15v1h-15zM345 559h3v1h-3zM513 559h3v1h-3zM688 559h22v1h-22zM805 559h2v1h-2zM128 560h8v1h-8zM341 560h4v1h-4zM516 560h5v1h-5zM667 560h21v1h-21zM710 560h6v1h-6zM803 560h2v1h-2zM136 561h10v1h-10zM337 561h4v1h-4zM521 561h6v1h-6zM663 561h4v1h-4zM716 561h7v1h-7zM802 561h1v1h-1zM146 562h13v1h-13zM171 562h12v1h-12zM223 562h54v1h-54zM332 562h5v1h-5zM527 562h7v1h-7zM659 562h4v1h-4zM723 562h6v1h-6zM800 562h2v1h-2zM159 563h12v1h-12zM183 563h13v1h-13zM208 563h15v1h-15zM277 563h8v1h-8zM326 563h6v1h-6zM534 563h6v1h-6zM653 563h6v1h-6zM729 563h10v1h-10zM798 563h2v1h-2zM196 564h12v1h-12zM285 564h8v1h-8zM310 564h16v1h-16zM540 564h6v1h-6zM647 564h6v1h-6zM739 564h12v1h-12zM796 564h2v1h-2zM293 565h17v1h-17zM546 565h6v1h-6zM641 565h6v1h-6zM751 565h10v1h-10zM792 565h4v1h-4zM552 566h10v1h-10zM635 566h6v1h-6zM761 566h6v1h-6zM786 566h6v1h-6zM562 567h10v1h-10zM628 567h7v1h-7zM767 567h19v1h-19zM572 568h6v1h-6zM622 568h6v1h-6zM578 569h9v1h-9zM612 569h10v1h-10zM587 570h25v1h-25z"/>
<path fill="#00e8f0" d="M982 504h34v1h-34zM976 505h6v1h-6zM1016 505h13v1h-13zM969 506h7v1h-7zM1029 506h13v1h-13zM963 507h6v1h-6zM1042 507h9v1h-9zM957 508h6v1h-6zM1051 508h6v1h-6zM953 509h4v1h-4zM1057 509h7v1h-7zM949 510h4v1h-4zM1064 510h6v1h-6zM945 511h4v1h-4zM1070 511h7v1h-7zM942 512h3v1h-3zM1077 512h6v1h-6zM939 513h3v1h-3zM1083 513h6v1h-6zM936 514h3v1h-3zM1089 514h6v1h-6zM933 515h3v1h-3zM1095 515h7v1h-7zM931 516h2v1h-2zM1102 516h6v1h-6zM928 517h3v1h-3zM1108 517h6v1h-6zM925 518h3v1h-3zM1114 518h6v1h-6zM923 519h2v1h-2zM1120 519h6v1h-6zM920 520h3v1h-3zM1126 520h4v1h-4zM918 521h2v1h-2zM1130 521h4v1h-4zM915 522h3v1h-3zM1134 522h5v1h-5zM912 523h3v1h-3zM1139 523h4v1h-4zM910 524h2v1h-2zM1143 524h4v1h-4zM907 525h3v1h-3zM1147 525h4v1h-4zM904 526h3v1h-3zM1151 526h4v1h-4zM901 527h3v1h-3zM1155 527h4v1h-4zM898 528h3v1h-3zM1159 528h6v1h-6zM895 529h3v1h-3zM1165 529h6v1h-6zM893 530h2v1h-2zM1171 530h6v1h-6zM890 531h3v1h-3zM1177 531h4v1h-4zM887 532h3v1h-3zM1181 532h4v1h-4zM885 533h2v1h-2zM1185 533h4v1h-4zM883 534h2v1h-2zM1189 534h4v1h-4zM881 535h2v1h-2zM1193 535h4v1h-4zM879 536h2v1h-2zM1197 536h5v1h-5zM877 537h2v1h-2zM1202 537h4v1h-4zM875 538h2v1h-2zM1206 538h4v1h-4zM873 539h2v1h-2zM1210 539h8v1h-8zM871 540h2v1h-2zM1218 540h13v1h-13zM869 541h2v1h-2zM1231 541h13v1h-13zM867 542h2v1h-2zM1244 542h19v1h-19zM865 543h2v1h-2zM863 544h2v1h-2zM861 545h2v1h-2zM859 546h2v1h-2zM857 547h2v1h-2zM854 548h3v1h-3zM448 549h38v1h-38zM850 549h4v1h-4zM436 550h12v1h-12zM486 550h13v1h-13zM847 550h3v1h-3zM426 551h10v1h-10zM499 551h12v1h-12zM844 551h3v1h-3zM420 552h6v1h-6zM511 552h10v1h-10zM842 552h2v1h-2zM413 553h7v1h-7zM521 553h6v1h-6zM840 553h2v1h-2zM13 554h61v1h-61zM407 554h6v1h-6zM527 554h7v1h-7zM837 554h3v1h-3zM74 555h12v1h-12zM401 555h6v1h-6zM534 555h6v1h-6zM835 555h2v1h-2zM86 556h15v1h-15zM395 556h6v1h-6zM540 556h6v1h-6zM832 556h3v1h-3zM101 557h13v1h-13zM385 557h10v1h-10zM546 557h6v1h-6zM829 557h3v1h-3zM114 558h19v1h-19zM376 558h9v1h-9zM552 558h7v1h-7zM825 558h4v1h-4zM133 559h25v1h-25zM370 559h6v1h-6zM559 559h6v1h-6zM822 559h3v1h-3zM158 560h19v1h-19zM363 560h7v1h-7zM565 560h7v1h-7zM818 560h4v1h-4zM177 561h19v1h-19zM357 561h6v1h-6zM572 561h6v1h-6zM701 561h25v1h-25zM814 561h4v1h-4zM196 562h25v1h-25zM345 562h12v1h-12zM578 562h6v1h-6zM688 562h13v1h-13zM726 562h13v1h-13zM810 562h4v1h-4zM221 563h64v1h-64zM332 563h13v1h-13zM584 563h6v1h-6zM676 563h12v1h-12zM739 563h22v1h-22zM805 563h5v1h-5zM285 564h25v1h-25zM326 564h6v1h-6zM590 564h7v1h-7zM663 564h13v1h-13zM761 564h6v1h-6zM799 564h6v1h-6zM310 565h16v1h-16zM597 565h6v1h-6zM650 565h13v1h-13zM767 565h32v1h-32zM603 566h47v1h-47z"/>
<text x="458" y="495" fill="#4aa0ff" font-size="11" textLength="360.5" lengthAdjust="spacingAndGlyphs" style="white-space:pre">Moving Average Convergence / Divergence(CLOSE,26,12,9),Value Line(0)</text>
<text x="532" y="36" fill="#4aa0ff" font-size="11" textLength="212" lengthAdjust="spacingAndGlyphs" style="white-space:pre">NEX POINT PUBLIC COMPANY LIMITED [day]</text>
<rect x="1275" y="25" width="1" height="584" fill="#ffff1e"/>
<rect x="1275" y="25" width="5" height="1" fill="#ffff1e"/>
<rect x="1275" y="52" width="5" height="1" fill="#ffff1e"/>
<text x="1284.5" y="56" fill="#f4f4f4" font-size="11" style="white-space:pre">4.80</text>
<rect x="1275" y="79" width="5" height="1" fill="#ffff1e"/>
<text x="1284.5" y="83" fill="#f4f4f4" font-size="11" style="white-space:pre">4.60</text>
<rect x="1275" y="105" width="5" height="1" fill="#ffff1e"/>
<text x="1284.5" y="109" fill="#f4f4f4" font-size="11" style="white-space:pre">4.40</text>
<rect x="1275" y="132" width="5" height="1" fill="#ffff1e"/>
<text x="1284.5" y="136" fill="#f4f4f4" font-size="11" style="white-space:pre">4.20</text>
<rect x="1275" y="159" width="5" height="1" fill="#ffff1e"/>
<rect x="1275" y="186" width="5" height="1" fill="#ffff1e"/>
<text x="1284.5" y="190" fill="#f4f4f4" font-size="11" style="white-space:pre">3.80</text>
<rect x="1275" y="213" width="5" height="1" fill="#ffff1e"/>
<text x="1284.5" y="217" fill="#f4f4f4" font-size="11" style="white-space:pre">3.60</text>
<rect x="1275" y="240" width="5" height="1" fill="#ffff1e"/>
<text x="1284.5" y="244" fill="#f4f4f4" font-size="11" style="white-space:pre">3.40</text>
<rect x="1275" y="267" width="5" height="1" fill="#ffff1e"/>
<text x="1284.5" y="271" fill="#f4f4f4" font-size="11" style="white-space:pre">3.20</text>
<rect x="1275" y="294" width="5" height="1" fill="#ffff1e"/>
<text x="1284.5" y="298" fill="#f4f4f4" font-size="11" style="white-space:pre">3.00</text>
<rect x="1275" y="321" width="5" height="1" fill="#ffff1e"/>
<text x="1284.5" y="325" fill="#f4f4f4" font-size="11" style="white-space:pre">2.80</text>
<rect x="1275" y="348" width="5" height="1" fill="#ffff1e"/>
<text x="1284.5" y="352" fill="#f4f4f4" font-size="11" style="white-space:pre">2.60</text>
<rect x="1275" y="376" width="5" height="1" fill="#ffff1e"/>
<text x="1284.5" y="380" fill="#f4f4f4" font-size="11" style="white-space:pre">2.40</text>
<rect x="1275" y="403" width="5" height="1" fill="#ffff1e"/>
<text x="1284.5" y="407" fill="#f4f4f4" font-size="11" style="white-space:pre">2.20</text>
<rect x="1275" y="430" width="5" height="1" fill="#ffff1e"/>
<text x="1284.5" y="434" fill="#f4f4f4" font-size="11" style="white-space:pre">2</text>
<rect x="1275" y="457" width="5" height="1" fill="#ffff1e"/>
<text x="1284.5" y="461" fill="#f4f4f4" font-size="11" style="white-space:pre">1.80</text>
<rect x="1275" y="491" width="5" height="1" fill="#ffff1e"/>
<rect x="1275" y="499" width="5" height="1" fill="#ffff1e"/>
<text x="1284.5" y="495" fill="#f4f4f4" font-size="11" style="white-space:pre">0.4</text>
<rect x="1275" y="507" width="5" height="1" fill="#ffff1e"/>
<rect x="1275" y="515" width="5" height="1" fill="#ffff1e"/>
<text x="1284.5" y="511" fill="#f4f4f4" font-size="11" style="white-space:pre">0.30</text>
<rect x="1275" y="523" width="5" height="1" fill="#ffff1e"/>
<rect x="1275" y="531" width="5" height="1" fill="#ffff1e"/>
<text x="1284.5" y="527" fill="#f4f4f4" font-size="11" style="white-space:pre">0.20</text>
<rect x="1275" y="539" width="5" height="1" fill="#ffff1e"/>
<rect x="1275" y="547" width="5" height="1" fill="#ffff1e"/>
<text x="1284.5" y="543" fill="#f4f4f4" font-size="11" style="white-space:pre">0.10</text>
<rect x="1275" y="555" width="5" height="1" fill="#ffff1e"/>
<rect x="1275" y="563" width="5" height="1" fill="#ffff1e"/>
<text x="1284.5" y="559" fill="#f4f4f4" font-size="11" style="white-space:pre">-0.0</text>
<rect x="1275" y="571" width="5" height="1" fill="#ffff1e"/>
<text x="1284.5" y="575" fill="#f4f4f4" font-size="11" style="white-space:pre">-0.1</text>
<rect x="1276" y="579" width="55" height="31" fill="#000"/>
<rect x="1276" y="154" width="54" height="15" fill="#c0ffc0"/>
<text x="1277" y="165" fill="#101010" font-size="11" textLength="20.6" lengthAdjust="spacingAndGlyphs" style="white-space:pre">4.04</text>
<rect x="0" y="579" width="1275" height="29" fill="#000"/>
<rect x="0" y="578" width="1276" height="1" fill="#ffff1e"/>
<rect x="0" y="593" width="1276" height="1" fill="#ffff1e"/>
<rect x="0" y="608" width="1276" height="1" fill="#ffff1e"/>
<rect x="0" y="578" width="1" height="31" fill="#ffff1e"/>
<rect x="113" y="578" width="1" height="16" fill="#ffff1e"/>
<text x="116.5" y="589" fill="#f4f4f4" font-size="11" style="white-space:pre">20/02</text>
<rect x="214" y="578" width="1" height="16" fill="#ffff1e"/>
<text x="217.5" y="589" fill="#f4f4f4" font-size="11" style="white-space:pre">03/03</text>
<rect x="315" y="578" width="1" height="16" fill="#ffff1e"/>
<text x="318.5" y="589" fill="#f4f4f4" font-size="11" style="white-space:pre">13/03</text>
<rect x="416" y="578" width="1" height="16" fill="#ffff1e"/>
<text x="419.5" y="589" fill="#f4f4f4" font-size="11" style="white-space:pre">25/03</text>
<rect x="517" y="578" width="1" height="16" fill="#ffff1e"/>
<text x="520.5" y="589" fill="#f4f4f4" font-size="11" style="white-space:pre">07/04</text>
<rect x="618" y="578" width="1" height="16" fill="#ffff1e"/>
<text x="621.5" y="589" fill="#f4f4f4" font-size="11" style="white-space:pre">17/04</text>
<rect x="719" y="578" width="1" height="16" fill="#ffff1e"/>
<text x="722.5" y="589" fill="#f4f4f4" font-size="11" style="white-space:pre">29/04</text>
<rect x="820" y="578" width="1" height="16" fill="#ffff1e"/>
<text x="823.5" y="589" fill="#f4f4f4" font-size="11" style="white-space:pre">14/05</text>
<rect x="921" y="578" width="1" height="16" fill="#ffff1e"/>
<text x="924.5" y="589" fill="#f4f4f4" font-size="11" style="white-space:pre">26/05</text>
<rect x="1022" y="578" width="1" height="16" fill="#ffff1e"/>
<text x="1025.5" y="589" fill="#f4f4f4" font-size="11" style="white-space:pre">08/06</text>
<rect x="1123" y="578" width="1" height="16" fill="#ffff1e"/>
<text x="1126.5" y="589" fill="#f4f4f4" font-size="11" style="white-space:pre">18/06</text>
<rect x="1224" y="578" width="1" height="16" fill="#ffff1e"/>
<text x="1227.5" y="589" fill="#f4f4f4" font-size="11" style="white-space:pre">30/06</text>
<rect x="12" y="593" width="1" height="16" fill="#ffff1e"/>
<text x="15.5" y="605" fill="#f4f4f4" font-size="11" style="white-space:pre">2563</text>
<rect x="201" y="593" width="1" height="16" fill="#ffff1e"/>
<text x="204.5" y="605" fill="#f4f4f4" font-size="11" style="white-space:pre">Mar</text>
<rect x="479" y="593" width="1" height="16" fill="#ffff1e"/>
<text x="482.5" y="605" fill="#f4f4f4" font-size="11" style="white-space:pre">Apr</text>
<rect x="744" y="593" width="1" height="16" fill="#ffff1e"/>
<text x="747.5" y="605" fill="#f4f4f4" font-size="11" style="white-space:pre">May</text>
<rect x="972" y="593" width="1" height="16" fill="#ffff1e"/>
<text x="975.5" y="605" fill="#f4f4f4" font-size="11" style="white-space:pre">Jun</text>
<rect x="1237" y="593" width="1" height="16" fill="#ffff1e"/>
<rect x="1262" y="579" width="1" height="29" fill="#ffffff"/>
<rect x="5" y="30" width="162" height="411" fill="#ffff1e"/>
<rect x="6" y="31" width="160" height="409" fill="#333333"/>
<text x="10.52" y="42.0" fill="#e4e44a" font-size="11" textLength="41.24" lengthAdjust="spacingAndGlyphs" style="white-space:pre">03/07/63</text>
<text x="10.68" y="55.0" fill="#f4f4f4" font-size="11" textLength="20.16" lengthAdjust="spacingAndGlyphs" style="white-space:pre">High</text>
<text x="37.02" y="55.0" fill="#f4f4f4" font-size="11" textLength="26.74" lengthAdjust="spacingAndGlyphs" style="white-space:pre">=4.04</text>
<text x="10.68" y="69.0" fill="#f4f4f4" font-size="11" textLength="20.42" lengthAdjust="spacingAndGlyphs" style="white-space:pre">Low</text>
<text x="37.94" y="69.0" fill="#f4f4f4" font-size="11" textLength="26.66" lengthAdjust="spacingAndGlyphs" style="white-space:pre">=3.76</text>
<text x="10.68" y="83.0" fill="#f4f4f4" font-size="11" textLength="24.50" lengthAdjust="spacingAndGlyphs" style="white-space:pre">Open</text>
<text x="41.94" y="83.0" fill="#f4f4f4" font-size="11" textLength="26.66" lengthAdjust="spacingAndGlyphs" style="white-space:pre">=4.02</text>
<text x="10.68" y="97.0" fill="#f4f4f4" font-size="11" textLength="25.34" lengthAdjust="spacingAndGlyphs" style="white-space:pre">Close</text>
<text x="43.76" y="97.0" fill="#f4f4f4" font-size="11" textLength="25.10" lengthAdjust="spacingAndGlyphs" style="white-space:pre">=4.04</text>
<text x="10.28" y="111.0" fill="#5fe25f" font-size="11" textLength="57.22" lengthAdjust="spacingAndGlyphs" style="white-space:pre">.EMAV(C,5)</text>
<text x="75.94" y="111.0" fill="#5fe25f" font-size="11" textLength="38.74" lengthAdjust="spacingAndGlyphs" style="white-space:pre">=3.9439</text>
<text x="10.28" y="125.0" fill="#2078f0" font-size="11" textLength="62.80" lengthAdjust="spacingAndGlyphs" style="white-space:pre">.EMAV(C,10)</text>
<text x="81.94" y="125.0" fill="#2078f0" font-size="11" textLength="39.06" lengthAdjust="spacingAndGlyphs" style="white-space:pre">=3.8919</text>
<text x="10.28" y="139.0" fill="#ff8410" font-size="11" textLength="63.06" lengthAdjust="spacingAndGlyphs" style="white-space:pre">.EMAV(C,15)</text>
<text x="82.36" y="139.0" fill="#ff8410" font-size="11" textLength="38.16" lengthAdjust="spacingAndGlyphs" style="white-space:pre">=3.8714</text>
<text x="10.28" y="153.0" fill="#7ef4f4" font-size="11" textLength="62.48" lengthAdjust="spacingAndGlyphs" style="white-space:pre">.EMAV(C,75)</text>
<text x="81.94" y="153.0" fill="#7ef4f4" font-size="11" textLength="38.16" lengthAdjust="spacingAndGlyphs" style="white-space:pre">=3.4377</text>
<text x="10.28" y="167.0" fill="#f4a0a8" font-size="11" textLength="68.22" lengthAdjust="spacingAndGlyphs" style="white-space:pre">.BB.Top(C,20)</text>
<text x="87.6" y="167.0" fill="#f4a0a8" font-size="11" textLength="37.58" lengthAdjust="spacingAndGlyphs" style="white-space:pre">=4.1041</text>
<text x="10.28" y="181.0" fill="#fafac0" font-size="11" textLength="69.40" lengthAdjust="spacingAndGlyphs" style="white-space:pre">.BB.Avg(C,20)</text>
<text x="89.76" y="181.0" fill="#fafac0" font-size="11" textLength="37.26" lengthAdjust="spacingAndGlyphs" style="white-space:pre">=3.8700</text>
<text x="10.28" y="195.0" fill="#f4a0a8" font-size="11" textLength="68.22" lengthAdjust="spacingAndGlyphs" style="white-space:pre">.BB.Btm(C,20)</text>
<text x="87.6" y="195.0" fill="#f4a0a8" font-size="11" textLength="38.74" lengthAdjust="spacingAndGlyphs" style="white-space:pre">=3.6359</text>
<text x="10.52" y="209.0" fill="#0a68c8" font-size="11" textLength="76.90" lengthAdjust="spacingAndGlyphs" style="white-space:pre">.SIM_EMAV.Buy</text>
<text x="97.18" y="209.0" fill="#0a68c8" font-size="11" textLength="22.42" lengthAdjust="spacingAndGlyphs" style="white-space:pre">= n/a</text>
<text x="9.62" y="223.0" fill="#e0105c" font-size="11" textLength="77.30" lengthAdjust="spacingAndGlyphs" style="white-space:pre">.SIM_EMAV.Sell</text>
<text x="94.7" y="223.0" fill="#e0105c" font-size="11" textLength="23.82" lengthAdjust="spacingAndGlyphs" style="white-space:pre">= n/a</text>
<text x="10.28" y="237.0" fill="#1c44cc" font-size="11" textLength="56.64" lengthAdjust="spacingAndGlyphs" style="white-space:pre">.EMAV(C,5)</text>
<text x="76.02" y="237.0" fill="#1c44cc" font-size="11" textLength="38.98" lengthAdjust="spacingAndGlyphs" style="white-space:pre">=3.9439</text>
<text x="10.28" y="251.0" fill="#f0a030" font-size="11" textLength="62.64" lengthAdjust="spacingAndGlyphs" style="white-space:pre">.EMAV(C,10)</text>
<text x="81.78" y="251.0" fill="#f0a030" font-size="11" textLength="38.98" lengthAdjust="spacingAndGlyphs" style="white-space:pre">=3.8919</text>
<text x="10.28" y="265.0" fill="#4a909c" font-size="11" textLength="63.56" lengthAdjust="spacingAndGlyphs" style="white-space:pre">.SIM_RSI.Buy</text>
<text x="82.86" y="265.0" fill="#4a909c" font-size="11" textLength="23.32" lengthAdjust="spacingAndGlyphs" style="white-space:pre">= n/a</text>
<text x="10.28" y="279.0" fill="#ff6420" font-size="11" textLength="61.90" lengthAdjust="spacingAndGlyphs" style="white-space:pre">.SIM_RSI.Sell</text>
<text x="81.2" y="279.0" fill="#ff6420" font-size="11" textLength="23.32" lengthAdjust="spacingAndGlyphs" style="white-space:pre">= n/a</text>
<text x="10.28" y="293.0" fill="#4a909c" font-size="11" textLength="94.56" lengthAdjust="spacingAndGlyphs" style="white-space:pre">.SIM_RSISMAV.Buy</text>
<text x="114.02" y="293.0" fill="#4a909c" font-size="11" textLength="23.16" lengthAdjust="spacingAndGlyphs" style="white-space:pre">= n/a</text>
<text x="10.28" y="307.0" fill="#ff6420" font-size="11" textLength="92.90" lengthAdjust="spacingAndGlyphs" style="white-space:pre">.SIM_RSISMAV.Sell</text>
<text x="112.28" y="307.0" fill="#ff6420" font-size="11" textLength="23.24" lengthAdjust="spacingAndGlyphs" style="white-space:pre">= n/a</text>
<text x="10.28" y="321.0" fill="#4a909c" font-size="11" textLength="63.56" lengthAdjust="spacingAndGlyphs" style="white-space:pre">.SIM_RSI.Buy</text>
<text x="82.86" y="321.0" fill="#4a909c" font-size="11" textLength="23.32" lengthAdjust="spacingAndGlyphs" style="white-space:pre">= n/a</text>
<text x="10.28" y="335.0" fill="#ff6420" font-size="11" textLength="61.90" lengthAdjust="spacingAndGlyphs" style="white-space:pre">.SIM_RSI.Sell</text>
<text x="81.2" y="335.0" fill="#ff6420" font-size="11" textLength="23.32" lengthAdjust="spacingAndGlyphs" style="white-space:pre">= n/a</text>
<text x="10.28" y="349.0" fill="#e8c090" font-size="11" textLength="30.48" lengthAdjust="spacingAndGlyphs" style="white-space:pre">.PRAB</text>
<text x="49.86" y="349.0" fill="#e8c090" font-size="11" textLength="38.74" lengthAdjust="spacingAndGlyphs" style="white-space:pre">=3.5800</text>
<text x="10.28" y="363.0" fill="#4a909c" font-size="11" textLength="63.56" lengthAdjust="spacingAndGlyphs" style="white-space:pre">.SIM_RSI.Buy</text>
<text x="82.86" y="363.0" fill="#4a909c" font-size="11" textLength="23.32" lengthAdjust="spacingAndGlyphs" style="white-space:pre">= n/a</text>
<text x="10.28" y="377.0" fill="#ff6420" font-size="11" textLength="61.90" lengthAdjust="spacingAndGlyphs" style="white-space:pre">.SIM_RSI.Sell</text>
<text x="81.2" y="377.0" fill="#ff6420" font-size="11" textLength="23.32" lengthAdjust="spacingAndGlyphs" style="white-space:pre">= n/a</text>
<text x="10.28" y="391.0" fill="#4a909c" font-size="11" textLength="63.56" lengthAdjust="spacingAndGlyphs" style="white-space:pre">.SIM_RSI.Buy</text>
<text x="82.86" y="391.0" fill="#4a909c" font-size="11" textLength="23.32" lengthAdjust="spacingAndGlyphs" style="white-space:pre">= n/a</text>
<text x="10.28" y="405.0" fill="#ff6420" font-size="11" textLength="61.90" lengthAdjust="spacingAndGlyphs" style="white-space:pre">.SIM_RSI.Sell</text>
<text x="81.2" y="405.0" fill="#ff6420" font-size="11" textLength="23.32" lengthAdjust="spacingAndGlyphs" style="white-space:pre">= n/a</text>
<text x="10.28" y="419.0" fill="#4a909c" font-size="11" textLength="63.56" lengthAdjust="spacingAndGlyphs" style="white-space:pre">.SIM_RSI.Buy</text>
<text x="82.86" y="419.0" fill="#4a909c" font-size="11" textLength="23.32" lengthAdjust="spacingAndGlyphs" style="white-space:pre">= n/a</text>
<text x="10.28" y="433.0" fill="#ff6420" font-size="11" textLength="61.90" lengthAdjust="spacingAndGlyphs" style="white-space:pre">.SIM_RSI.Sell</text>
<text x="81.2" y="433.0" fill="#ff6420" font-size="11" textLength="23.32" lengthAdjust="spacingAndGlyphs" style="white-space:pre">= n/a</text>
<rect x="5" y="489" width="156" height="61" fill="#ffff1e"/>
<rect x="6" y="490" width="154" height="59" fill="#333333"/>
<text x="9.78" y="500.0" fill="#e0b898" font-size="11" textLength="77.40" lengthAdjust="spacingAndGlyphs" style="white-space:pre">.MACD(26,12,9)</text>
<text x="97.1" y="500.0" fill="#e0b898" font-size="11" textLength="37.50" lengthAdjust="spacingAndGlyphs" style="white-space:pre">=0.0790</text>
<text x="9.78" y="514.0" fill="#10e0e8" font-size="11" textLength="32.72" lengthAdjust="spacingAndGlyphs" style="white-space:pre">.Signal</text>
<text x="48.68" y="514.0" fill="#10e0e8" font-size="11" textLength="37.50" lengthAdjust="spacingAndGlyphs" style="white-space:pre">=0.0837</text>
<text x="10.68" y="528.0" fill="#f4f4f4" font-size="11" textLength="19.92" lengthAdjust="spacingAndGlyphs" style="white-space:pre">.Hist</text>
<text x="37.52" y="528.0" fill="#f4f4f4" font-size="11" textLength="42.08" lengthAdjust="spacingAndGlyphs" style="white-space:pre">=-0.0048</text>
<text x="9.78" y="542.0" fill="#808010" font-size="11" textLength="32.14" lengthAdjust="spacingAndGlyphs" style="white-space:pre">.VLINE</text>
<text x="51.52" y="542.0" fill="#808010" font-size="11" textLength="38.98" lengthAdjust="spacingAndGlyphs" style="white-space:pre">=0.0000</text>
<rect x="0" y="0" width="1331" height="23" fill="#000"/>
<rect x="114" y="0" width="1216" height="23" fill="#ffff1e"/>
<rect x="115" y="1" width="1214" height="21" fill="#000"/>
<rect x="1087" y="0" width="1" height="23" fill="#ffff1e"/>
<rect x="1166" y="0" width="1" height="23" fill="#ffff1e"/>
<rect x="1246" y="0" width="1" height="23" fill="#ffff1e"/>
<rect x="1247" y="20" width="82" height="2" fill="#d8d8d8"/>
<text x="1165" y="17" fill="#f4f4f4" font-size="11" text-anchor="end" style="white-space:pre">300/300</text>
<text x="1244" y="17" fill="#f4f4f4" font-size="11" text-anchor="end" style="white-space:pre">4.59</text>
<text x="1257.5" y="17" fill="#f4f4f4" font-size="11" textLength="62.5" lengthAdjust="spacingAndGlyphs" style="white-space:pre">Linear(Auto)</text>
<rect x="0" y="0" width="113" height="21" fill="#ffffff"/>
<rect x="96" y="1" width="16" height="19" fill="#f0f0f0"/>
<path d="M102,9 h5 v1 h-1 v1 h-1 v1 h-1 v-1 h-1 v-1 h-1 z" fill="#000"/>
<text x="2.8" y="14" fill="#101030" font-size="11" textLength="18.6" lengthAdjust="spacingAndGlyphs" style="white-space:pre">NEX</text>
<rect x="1330" y="0" width="1" height="610" fill="#202020"/>
<rect x="0" y="609" width="20" height="1" fill="#a0a0a8"/>
<rect x="690" y="609" width="6" height="1" fill="#c0c0c8"/>
<rect x="696" y="609" width="340" height="1" fill="#f0f0f8"/>
<rect x="1036" y="609" width="6" height="1" fill="#c0c0c8"/>
<rect x="1043" y="609" width="20" height="1" fill="#a0a0a8"/>
<rect x="1064" y="609" width="1" height="1" fill="#f0f0f8"/>
</svg></body></html>
